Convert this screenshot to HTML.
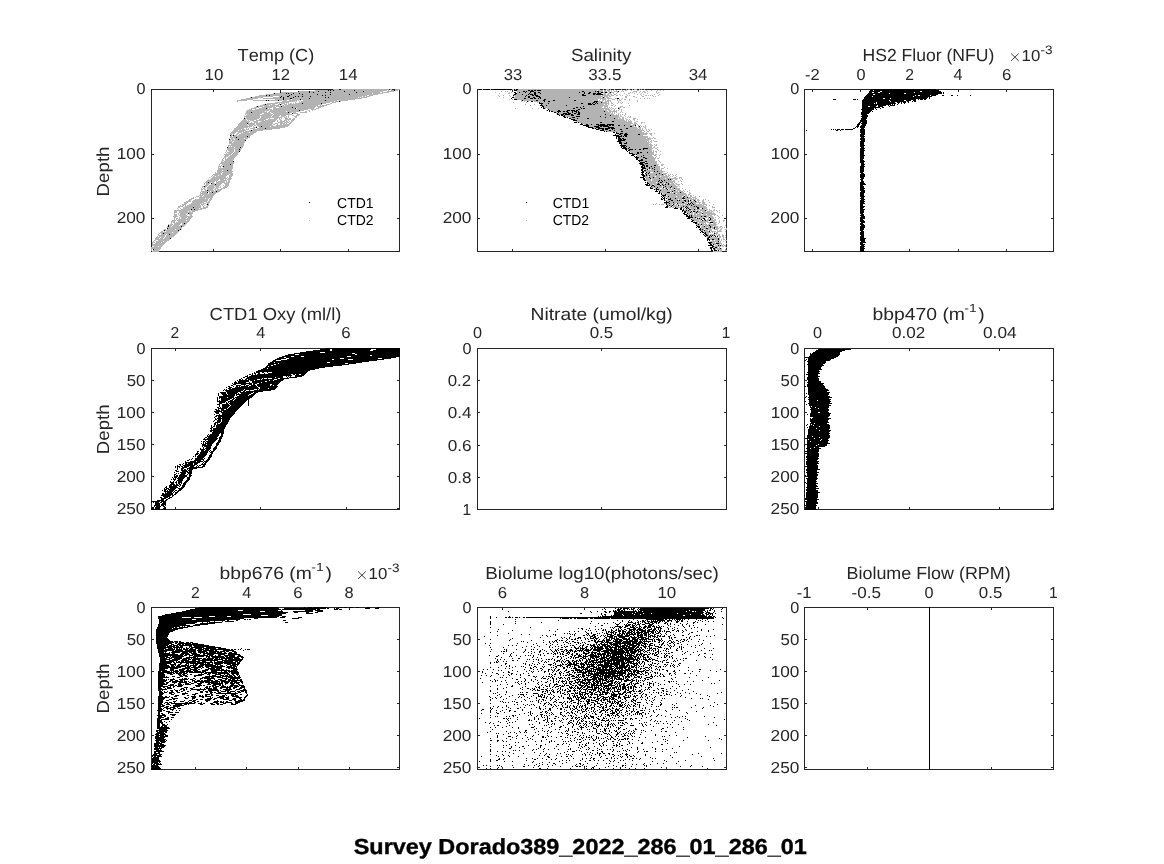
<!DOCTYPE html>
<html><head><meta charset="utf-8"><title>Survey Dorado389_2022_286_01_286_01</title>
<style>
html,body{margin:0;padding:0;background:#fff;}
body{width:1164px;height:864px;overflow:hidden;font-family:"Liberation Sans",sans-serif;}
svg{display:block;}
svg text{font-family:"Liberation Sans",sans-serif;font-kerning:none;white-space:pre;text-rendering:geometricPrecision;}
</style></head><body>
<svg width="1164" height="864" viewBox="0 0 1164 864">
<rect width="1164" height="864" fill="#fff"/>
<g fill="none" stroke="#262626" stroke-width="1" shape-rendering="crispEdges">
<path d="M151.5 89.5H399.5V251.5H151.5ZM477.5 89.5H726.5V251.5H477.5ZM804.5 89.5H1053.5V251.5H804.5ZM151.5 348.5H399.5V509.5H151.5ZM477.5 348.5H726.5V509.5H477.5ZM804.5 348.5H1053.5V509.5H804.5ZM151.5 607.5H399.5V769.5H151.5ZM477.5 607.5H726.5V769.5H477.5ZM804.5 607.5H1053.5V769.5H804.5Z"/>
<path d="M213.5 90v2M213.5 251v-2M280.5 90v2M280.5 251v-2M348.5 90v2M348.5 251v-2M152 154.5h2M399 154.5h-2M152 218.5h2M399 218.5h-2M512.5 90v2M512.5 251v-2M605.5 90v2M605.5 251v-2M698.5 90v2M698.5 251v-2M478 154.5h2M726 154.5h-2M478 218.5h2M726 218.5h-2M812.5 90v2M812.5 251v-2M860.5 90v2M860.5 251v-2M909.5 90v2M909.5 251v-2M958.5 90v2M958.5 251v-2M1006.5 90v2M1006.5 251v-2M805 154.5h2M1053 154.5h-2M805 218.5h2M1053 218.5h-2M175.5 349v2M175.5 509v-2M260.5 349v2M260.5 509v-2M346.5 349v2M346.5 509v-2M152 380.5h2M399 380.5h-2M152 412.5h2M399 412.5h-2M152 444.5h2M399 444.5h-2M152 476.5h2M399 476.5h-2M152 508.5h2M399 508.5h-2M601.5 349v2M601.5 509v-2M478 380.5h2M726 380.5h-2M478 412.5h2M726 412.5h-2M478 445.5h2M726 445.5h-2M478 477.5h2M726 477.5h-2M818.5 349v2M818.5 509v-2M909.5 349v2M909.5 509v-2M999.5 349v2M999.5 509v-2M805 380.5h2M1053 380.5h-2M805 412.5h2M1053 412.5h-2M805 444.5h2M1053 444.5h-2M805 476.5h2M1053 476.5h-2M805 508.5h2M1053 508.5h-2M195.5 608v2M195.5 769v-2M246.5 608v2M246.5 769v-2M298.5 608v2M298.5 769v-2M349.5 608v2M349.5 769v-2M152 639.5h2M399 639.5h-2M152 671.5h2M399 671.5h-2M152 703.5h2M399 703.5h-2M152 735.5h2M399 735.5h-2M152 767.5h2M399 767.5h-2M502.5 608v2M502.5 769v-2M584.5 608v2M584.5 769v-2M666.5 608v2M666.5 769v-2M478 639.5h2M726 639.5h-2M478 671.5h2M726 671.5h-2M478 703.5h2M726 703.5h-2M478 735.5h2M726 735.5h-2M478 767.5h2M726 767.5h-2M867.5 608v2M867.5 769v-2M929.5 608v2M929.5 769v-2M991.5 608v2M991.5 769v-2M805 639.5h2M1053 639.5h-2M805 671.5h2M1053 671.5h-2M805 703.5h2M1053 703.5h-2M805 735.5h2M1053 735.5h-2M805 767.5h2M1053 767.5h-2"/>
</g>
<g fill="none" stroke-width="1" shape-rendering="crispEdges" transform="translate(0 0.5)">
<path stroke="#000" d="M479 89h3M483 89h2M486 89h4M491 89h1M493 89h13M507 89h5M514 89h1M516 89h2M871 89h65M328 90h1M330 90h1M333 90h1M354 90h1M394 90h1M514 90h3M528 90h2M531 90h2M534 90h2M537 90h4M870 90h3M874 90h65M298 91h1M309 91h1M318 91h1M344 91h1M363 91h1M523 91h2M526 91h1M530 91h4M582 91h2M595 91h1M597 91h2M618 91h1M869 91h11M882 91h38M922 91h19M280 92h1M309 92h1M313 92h1M325 92h1M330 92h1M356 92h1M514 92h2M519 92h1M525 92h1M530 92h1M534 92h2M538 92h2M579 92h1M584 92h1M589 92h2M598 92h1M601 92h2M605 92h2M610 92h1M869 92h3M874 92h4M880 92h34M915 92h27M943 92h1M274 93h1M286 93h1M288 93h1M293 93h1M299 93h1M515 93h2M529 93h1M534 93h2M540 93h1M584 93h1M588 93h2M593 93h3M597 93h4M868 93h21M890 93h14M906 93h36M943 93h1M291 94h1M302 94h1M317 94h1M330 94h1M349 94h1M514 94h2M522 94h1M528 94h1M530 94h3M534 94h2M582 94h2M593 94h2M596 94h7M867 94h6M875 94h63M266 95h1M269 95h1M289 95h1M322 95h1M325 95h1M513 95h1M526 95h1M532 95h2M535 95h3M582 95h4M866 95h49M916 95h2M920 95h10M931 95h5M942 95h2M951 95h2M957 95h1M970 95h1M281 96h1M287 96h2M295 96h1M298 96h1M302 96h1M310 96h1M525 96h1M528 96h2M536 96h4M865 96h7M873 96h40M914 96h18M251 97h1M280 97h1M283 97h1M293 97h1M325 97h1M328 97h1M512 97h2M528 97h2M533 97h2M539 97h2M569 97h1M603 97h1M864 97h64M929 97h1M283 98h1M290 98h2M309 98h1M511 98h1M524 98h2M530 98h3M534 98h2M538 98h1M540 98h1M617 98h2M864 98h19M885 98h5M891 98h36M929 98h1M283 99h1M300 99h1M514 99h3M544 99h2M833 99h3M853 99h3M857 99h1M863 99h53M918 99h1M920 99h3M924 99h2M266 100h1M268 100h1M278 100h1M325 100h1M522 100h1M536 100h2M543 100h2M553 100h2M574 100h2M862 100h27M890 100h14M906 100h5M913 100h3M339 101h1M527 101h1M531 101h2M544 101h1M548 101h2M594 101h4M862 101h28M891 101h15M907 101h2M912 101h1M914 101h2M539 102h1M593 102h2M596 102h1M601 102h1M862 102h14M877 102h18M897 102h3M901 102h1M903 102h3M908 102h1M302 103h1M321 103h1M539 103h4M548 103h1M581 103h2M588 103h3M592 103h1M595 103h1M597 103h1M862 103h12M875 103h1M877 103h19M898 103h1M901 103h1M904 103h1M265 104h1M280 104h1M541 104h1M588 104h4M593 104h2M862 104h29M892 104h1M894 104h1M897 104h1M540 105h3M546 105h1M566 105h1M862 105h15M878 105h8M888 105h1M890 105h5M257 106h1M281 106h1M542 106h2M583 106h1M862 106h6M870 106h6M878 106h5M889 106h1M292 107h1M541 107h1M543 107h1M576 107h2M580 107h1M862 107h18M882 107h2M266 108h1M295 108h1M543 108h2M573 108h2M581 108h1M583 108h2M618 108h1M862 108h12M875 108h1M880 108h1M548 109h1M578 109h2M861 109h13M876 109h1M299 110h1M547 110h1M549 110h1M558 110h2M567 110h3M571 110h4M576 110h2M862 110h10M549 111h1M551 111h2M557 111h4M563 111h2M566 111h2M572 111h1M574 111h3M578 111h1M604 111h1M862 111h9M872 111h1M251 112h1M288 112h1M554 112h2M558 112h1M567 112h2M572 112h1M576 112h1M578 112h2M861 112h9M292 113h1M557 113h1M563 113h4M568 113h3M574 113h2M578 113h2M861 113h8M557 114h2M561 114h3M565 114h5M571 114h2M577 114h3M605 114h1M861 114h6M559 115h1M561 115h2M564 115h1M571 115h3M610 115h1M862 115h6M563 116h2M576 116h4M600 116h1M861 116h7M564 117h2M567 117h1M572 117h3M605 117h1M862 117h5M244 118h1M569 118h2M577 118h1M587 118h2M614 118h1M861 118h6M571 119h4M861 119h5M573 120h4M860 120h7M612 121h2M860 121h7M574 122h3M578 122h1M600 122h2M859 122h2M862 122h5M247 123h1M581 123h1M858 123h2M861 123h6M580 124h3M586 124h2M591 124h1M596 124h3M600 124h5M607 124h7M857 124h3M862 124h4M583 125h6M598 125h10M609 125h2M612 125h2M618 125h2M624 125h1M635 125h1M857 125h2M861 125h5M261 126h1M586 126h3M594 126h5M600 126h2M603 126h6M630 126h2M639 126h1M856 126h3M860 126h5M256 127h1M588 127h5M596 127h4M608 127h6M855 127h1M857 127h1M860 127h5M265 128h1M592 128h2M595 128h1M598 128h6M605 128h5M611 128h4M626 128h2M853 128h2M861 128h3M596 129h3M602 129h2M605 129h3M612 129h1M620 129h2M831 129h1M833 129h1M835 129h1M837 129h3M841 129h3M845 129h8M860 129h5M251 130h1M600 130h4M609 130h2M614 130h1M806 130h1M836 130h2M840 130h1M860 130h5M604 131h1M606 131h1M621 131h2M860 131h5M613 132h2M616 132h1M860 132h5M616 133h3M620 133h3M625 133h2M861 133h4M615 134h1M619 134h2M624 134h4M638 134h2M860 134h5M230 135h1M233 135h1M613 135h6M621 135h1M624 135h3M860 135h4M247 136h1M616 136h6M623 136h1M625 136h2M860 136h5M236 137h1M616 137h1M618 137h2M861 137h3M616 138h1M618 138h3M622 138h2M860 138h5M229 139h1M238 139h1M618 139h4M623 139h3M860 139h5M245 140h1M618 140h7M861 140h4M617 141h4M860 141h5M619 142h3M626 142h1M860 142h4M619 143h3M624 143h3M860 143h4M621 144h1M860 144h4M620 145h6M860 145h5M621 146h4M626 146h1M860 146h4M227 147h1M240 147h1M621 147h1M623 147h3M629 147h1M861 147h3M622 148h5M628 148h1M643 148h5M860 148h5M239 149h1M625 149h2M629 149h4M635 149h1M639 149h2M643 149h1M860 149h4M626 150h1M628 150h2M860 150h5M239 151h1M627 151h1M860 151h4M629 152h1M637 152h2M640 152h2M647 152h1M860 152h4M629 153h4M637 153h2M860 153h4M632 154h3M636 154h1M860 154h4M631 155h3M643 155h1M860 155h5M634 156h1M636 156h1M641 156h1M860 156h4M635 157h4M643 157h2M860 157h4M636 158h2M645 158h2M860 158h4M636 159h2M641 159h2M860 159h3M638 160h5M860 160h4M233 161h1M639 161h1M645 161h2M860 161h5M640 162h5M860 162h4M639 163h4M645 163h3M861 163h3M230 164h1M640 164h4M861 164h4M642 165h3M646 165h2M654 165h2M861 165h3M223 166h1M641 166h2M644 166h1M646 166h2M651 166h1M860 166h5M641 167h4M649 167h1M654 167h1M860 167h4M642 168h4M649 168h1M652 168h1M860 168h4M641 169h2M647 169h1M654 169h1M860 169h4M227 170h1M641 170h2M644 170h2M860 170h4M642 171h2M654 171h1M657 171h1M860 171h4M641 172h3M646 172h1M649 172h1M860 172h3M642 173h1M645 173h1M648 173h1M659 173h1M861 173h3M641 174h3M646 174h1M656 174h1M662 174h1M860 174h5M642 175h3M646 175h1M649 175h1M860 175h5M643 176h2M860 176h5M640 177h4M649 177h1M653 177h1M860 177h4M643 178h2M650 178h1M659 178h1M861 178h3M643 179h2M668 179h1M670 179h1M860 179h3M644 180h2M659 180h1M661 180h1M664 180h1M861 180h2M658 181h1M662 181h1M861 181h3M208 182h1M645 182h1M647 182h1M660 182h2M666 182h1M860 182h4M211 183h1M647 183h2M658 183h1M668 183h1M860 183h5M215 184h1M645 184h3M649 184h1M657 184h3M662 184h1M665 184h1M668 184h1M860 184h6M646 185h4M652 185h2M660 185h1M663 185h1M860 185h3M204 186h1M651 186h1M654 186h1M665 186h1M671 186h1M860 186h4M650 187h1M657 187h1M663 187h1M670 187h1M860 187h4M650 188h3M656 188h1M666 188h1M674 188h1M860 188h5M654 189h1M656 189h3M667 189h1M860 189h4M207 190h1M656 190h1M660 190h1M674 190h1M860 190h5M216 191h1M655 191h3M659 191h1M672 191h1M861 191h4M207 192h1M212 192h1M659 192h1M667 192h3M680 192h1M860 192h5M658 193h2M661 193h1M674 193h1M860 193h4M661 194h1M665 194h1M860 194h4M662 195h4M860 195h4M661 196h1M663 196h1M668 196h1M684 196h1M860 196h5M662 197h1M664 197h1M683 197h1M687 197h1M861 197h3M661 198h1M663 198h2M666 198h1M670 198h1M675 198h1M682 198h3M860 198h4M661 199h2M664 199h1M668 199h3M861 199h4M664 200h1M671 200h2M677 200h1M679 200h1M684 200h2M688 200h1M690 200h1M694 200h1M860 200h4M666 201h1M669 201h1M685 201h1M688 201h1M695 201h1M860 201h5M664 202h5M673 202h1M682 202h2M691 202h1M860 202h4M666 203h1M669 203h1M677 203h1M688 203h1M690 203h1M692 203h1M860 203h5M207 204h1M666 204h1M673 204h1M687 204h1M689 204h1M693 204h1M860 204h3M667 205h1M669 205h1M672 205h1M678 205h1M691 205h1M860 205h3M666 206h2M671 206h1M683 206h1M686 206h1M694 206h1M696 206h1M860 206h5M193 207h1M665 207h3M675 207h1M681 207h1M685 207h1M687 207h1M697 207h2M860 207h4M674 208h4M680 208h2M686 208h1M688 208h1M697 208h2M702 208h1M860 208h3M191 209h1M194 209h1M680 209h2M683 209h1M689 209h2M694 209h1M860 209h5M682 210h2M686 210h1M688 210h1M705 210h1M860 210h4M682 211h1M684 211h2M691 211h1M693 211h2M697 211h1M860 211h4M684 212h2M690 212h1M696 212h1M860 212h4M188 213h1M683 213h2M687 213h1M702 213h1M860 213h3M684 214h3M861 214h3M686 215h2M689 215h1M691 215h1M860 215h4M686 216h4M691 216h1M701 216h1M704 216h2M861 216h4M688 217h5M695 217h1M709 217h1M860 217h5M687 218h3M697 218h1M699 218h1M703 218h2M710 218h1M860 218h5M691 219h1M701 219h1M704 219h1M710 219h1M860 219h3M692 220h2M702 220h1M705 220h1M709 220h1M860 220h4M691 221h2M860 221h5M693 222h4M710 222h3M861 222h4M184 223h1M695 223h2M860 223h3M698 224h1M701 224h1M860 224h4M168 225h1M696 225h1M709 225h1M861 225h4M168 226h1M181 226h1M697 226h3M704 226h1M710 226h1M860 226h5M696 227h1M698 227h2M710 227h1M714 227h1M860 227h5M167 228h1M700 228h1M706 228h2M714 228h1M860 228h4M180 229h1M699 229h2M702 229h1M860 229h4M164 230h1M178 230h1M700 230h1M704 230h1M860 230h3M701 231h2M709 231h1M861 231h3M700 232h1M702 232h2M705 232h1M860 232h4M163 233h1M704 233h2M714 233h1M860 233h4M169 234h1M703 234h1M705 234h2M860 234h4M704 235h1M706 235h2M710 235h1M712 235h1M714 235h1M861 235h3M705 236h1M709 236h1M711 236h1M715 236h1M717 236h1M860 236h4M708 237h2M860 237h4M170 238h1M707 238h2M718 238h1M860 238h6M707 239h3M712 239h2M718 239h1M860 239h5M707 240h1M709 240h1M860 240h5M718 241h1M861 241h4M708 242h4M860 242h6M709 243h2M716 243h3M860 243h3M710 244h2M713 244h1M860 244h5M708 245h5M718 245h1M720 245h1M861 245h3M712 246h2M860 246h5M710 247h3M715 247h2M860 247h4M710 248h2M713 248h2M720 248h1M860 248h5M153 249h1M711 249h1M714 249h1M860 249h4M711 250h2M714 250h3M718 250h1M861 250h3M860 251h5M326 348h74M320 349h10M332 349h39M376 349h24M818 349h33M313 350h17M332 350h38M373 350h27M816 350h29M306 351h94M815 351h27M300 352h20M325 352h75M813 352h27M294 353h58M355 353h45M810 353h1M812 353h28M288 354h7M299 354h56M357 354h43M810 354h30M285 355h85M372 355h28M810 355h29M282 356h9M294 356h7M304 356h43M351 356h49M809 356h29M279 357h5M286 357h110M805 357h31M277 358h9M289 358h51M344 358h34M382 358h9M808 358h26M275 359h6M287 359h45M334 359h14M353 359h31M806 359h1M808 359h23M273 360h3M281 360h96M805 360h1M808 360h22M272 361h97M807 361h19M270 362h4M275 362h52M330 362h32M808 362h18M268 363h10M279 363h66M348 363h8M808 363h17M268 364h6M276 364h73M807 364h16M267 365h4M273 365h69M808 365h16M266 366h2M269 366h64M804 366h1M808 366h14M265 367h60M808 367h13M263 368h4M268 368h51M808 368h13M261 369h54M808 369h14M258 370h52M808 370h11M256 371h52M808 371h12M254 372h1M256 372h4M262 372h2M267 372h1M272 372h35M807 372h12M252 373h1M254 373h2M258 373h2M264 373h1M268 373h38M808 373h12M249 374h2M252 374h1M255 374h1M257 374h34M293 374h2M296 374h3M301 374h4M806 374h12M247 375h1M251 375h41M295 375h9M808 375h10M245 376h3M249 376h34M286 376h1M288 376h1M290 376h1M295 376h7M808 376h12M243 377h2M247 377h28M276 377h7M287 377h1M289 377h8M807 377h11M241 378h1M246 378h16M263 378h1M267 378h1M272 378h6M280 378h9M807 378h12M239 379h2M242 379h1M245 379h2M248 379h9M260 379h1M262 379h12M277 379h7M804 379h1M807 379h12M237 380h1M239 380h10M250 380h4M255 380h14M270 380h3M274 380h9M808 380h11M235 381h1M238 381h11M252 381h13M267 381h14M808 381h13M234 382h3M238 382h8M249 382h1M252 382h9M262 382h18M807 382h14M232 383h1M234 383h18M253 383h4M259 383h20M808 383h16M233 384h3M241 384h5M249 384h3M253 384h2M257 384h13M272 384h6M807 384h16M231 385h2M236 385h5M244 385h1M246 385h3M251 385h5M257 385h13M271 385h2M274 385h3M807 385h17M228 386h2M233 386h1M236 386h2M239 386h1M241 386h7M249 386h8M258 386h20M805 386h1M807 386h18M226 387h1M229 387h3M235 387h23M260 387h17M808 387h17M228 388h3M232 388h27M260 388h8M269 388h7M808 388h18M224 389h1M226 389h1M229 389h15M245 389h9M257 389h1M259 389h16M808 389h20M223 390h1M225 390h18M244 390h2M249 390h1M254 390h17M804 390h1M808 390h21M226 391h15M243 391h2M246 391h17M808 391h19M220 392h6M227 392h11M240 392h13M254 392h4M808 392h22M218 393h1M221 393h5M227 393h10M238 393h1M241 393h10M253 393h3M806 393h1M808 393h21M218 394h1M222 394h5M228 394h7M236 394h13M251 394h4M808 394h21M218 395h1M223 395h12M236 395h1M239 395h9M249 395h5M804 395h1M809 395h19M219 396h15M237 396h16M806 396h1M809 396h21M217 397h1M219 397h8M228 397h6M235 397h17M805 397h1M808 397h24M217 398h1M219 398h1M221 398h11M233 398h2M236 398h14M804 398h1M809 398h20M217 399h1M221 399h9M232 399h2M235 399h14M804 399h1M808 399h23M217 400h1M219 400h1M221 400h7M230 400h3M234 400h13M248 400h1M809 400h8M818 400h12M217 401h9M228 401h18M248 401h1M805 401h1M809 401h22M219 402h6M226 402h1M228 402h1M230 402h15M248 402h1M809 402h21M219 403h3M226 403h2M229 403h15M248 403h1M808 403h24M217 404h3M222 404h7M230 404h13M248 404h1M806 404h1M809 404h20M219 405h1M222 405h8M231 405h11M248 405h1M809 405h22M219 406h1M222 406h7M230 406h11M810 406h1M812 406h17M217 407h2M220 407h1M222 407h6M229 407h11M810 407h5M816 407h13M218 408h9M228 408h11M811 408h7M819 408h9M215 409h2M218 409h1M221 409h3M226 409h12M810 409h19M216 410h4M221 410h16M811 410h18M214 411h8M223 411h13M811 411h17M215 412h4M221 412h14M811 412h7M820 412h9M216 413h3M222 413h13M810 413h21M214 414h1M219 414h1M222 414h12M807 414h1M810 414h20M216 415h17M810 415h20M215 416h2M218 416h14M810 416h19M214 417h1M218 417h3M222 417h9M813 417h15M215 418h1M217 418h13M810 418h1M812 418h19M215 419h2M218 419h3M222 419h8M810 419h19M214 420h1M217 420h4M222 420h7M810 420h18M213 421h1M217 421h4M222 421h7M810 421h18M215 422h5M221 422h7M811 422h18M214 423h2M217 423h1M220 423h8M810 423h4M815 423h12M214 424h2M217 424h10M807 424h1M810 424h1M812 424h17M211 425h1M214 425h1M216 425h10M806 425h1M810 425h3M814 425h16M211 426h1M213 426h2M216 426h10M809 426h10M820 426h10M211 427h2M216 427h9M807 427h1M809 427h21M210 428h2M213 428h12M809 428h7M817 428h13M211 429h1M213 429h11M808 429h21M210 430h14M808 430h11M820 430h11M210 431h2M213 431h11M808 431h22M212 432h12M808 432h21M212 433h8M221 433h3M808 433h22M208 434h1M210 434h9M221 434h2M808 434h21M207 435h1M209 435h10M221 435h2M807 435h23M207 436h11M220 436h3M807 436h5M813 436h17M205 437h2M208 437h9M219 437h3M807 437h12M820 437h10M204 438h1M207 438h11M219 438h3M805 438h9M815 438h14M203 439h14M219 439h2M807 439h1M809 439h12M822 439h6M205 440h1M208 440h8M218 440h3M807 440h13M821 440h8M201 441h1M203 441h2M206 441h9M218 441h3M807 441h3M811 441h17M203 442h1M205 442h1M207 442h7M217 442h3M807 442h21M201 443h1M203 443h1M205 443h8M216 443h3M807 443h23M202 444h4M207 444h5M216 444h3M807 444h11M819 444h8M202 445h10M216 445h2M804 445h1M807 445h9M817 445h10M202 446h1M204 446h7M215 446h2M807 446h18M203 447h1M206 447h5M214 447h3M807 447h7M815 447h4M200 448h1M203 448h1M205 448h6M213 448h4M806 448h4M811 448h10M200 449h5M206 449h4M213 449h3M807 449h12M201 450h3M205 450h4M210 450h1M213 450h2M807 450h12M197 451h2M201 451h7M209 451h1M211 451h3M805 451h14M197 452h1M200 452h8M210 452h3M807 452h11M196 453h3M200 453h7M211 453h2M805 453h14M195 454h3M199 454h8M210 454h2M807 454h12M195 455h1M198 455h8M209 455h3M807 455h12M193 456h1M195 456h1M197 456h8M209 456h3M806 456h13M197 457h7M208 457h3M804 457h1M806 457h12M192 458h1M195 458h8M204 458h1M208 458h2M807 458h12M189 459h1M191 459h1M195 459h9M207 459h3M806 459h12M187 460h2M194 460h7M203 460h1M206 460h3M807 460h10M185 461h1M190 461h6M197 461h6M204 461h4M806 461h13M185 462h15M203 462h1M205 462h2M806 462h12M183 463h1M185 463h2M188 463h5M194 463h4M202 463h1M204 463h2M806 463h13M179 464h2M182 464h1M185 464h8M194 464h3M201 464h5M806 464h11M177 465h1M180 465h1M183 465h12M197 465h1M199 465h2M203 465h2M807 465h11M175 466h1M177 466h3M181 466h2M184 466h5M190 466h4M196 466h1M198 466h1M202 466h3M805 466h13M175 467h1M177 467h1M179 467h1M182 467h5M189 467h14M807 467h11M177 468h1M181 468h3M187 468h10M804 468h1M807 468h11M177 469h1M181 469h2M184 469h2M187 469h1M189 469h4M806 469h14M175 470h2M181 470h6M188 470h4M806 470h11M176 471h3M182 471h6M189 471h3M804 471h1M807 471h10M174 472h1M180 472h6M187 472h5M806 472h13M176 473h1M178 473h1M181 473h5M188 473h4M807 473h10M174 474h2M180 474h5M187 474h1M189 474h2M807 474h11M174 475h1M176 475h2M179 475h8M189 475h3M805 475h1M807 475h11M174 476h4M179 476h8M189 476h2M807 476h10M172 477h1M174 477h3M178 477h7M187 477h3M808 477h9M173 478h1M175 478h1M177 478h7M187 478h3M806 478h12M171 479h1M173 479h3M178 479h5M187 479h3M807 479h10M174 480h1M177 480h6M186 480h3M807 480h9M170 481h1M173 481h1M176 481h1M178 481h4M185 481h3M807 481h10M170 482h4M175 482h2M178 482h4M184 482h3M804 482h2M807 482h9M171 483h3M176 483h1M178 483h2M181 483h1M183 483h3M806 483h12M170 484h5M176 484h2M179 484h2M183 484h3M807 484h9M169 485h3M173 485h6M180 485h1M182 485h3M807 485h10M166 486h1M169 486h8M179 486h1M182 486h3M807 486h11M165 487h2M169 487h9M181 487h3M806 487h10M164 488h1M166 488h3M170 488h6M178 488h5M807 488h12M164 489h3M168 489h7M179 489h3M806 489h10M162 490h1M164 490h2M167 490h1M169 490h5M175 490h2M178 490h3M806 490h12M164 491h9M174 491h1M177 491h2M804 491h1M807 491h11M165 492h1M167 492h5M173 492h1M175 492h3M806 492h14M162 493h2M165 493h8M175 493h2M806 493h12M162 494h11M174 494h2M806 494h12M161 495h10M172 495h2M804 495h1M806 495h12M163 496h7M172 496h1M806 496h12M160 497h2M164 497h4M169 497h3M806 497h12M161 498h5M168 498h2M805 498h12M161 499h3M166 499h2M805 499h14M157 500h7M165 500h2M807 500h10M151 501h9M161 501h5M805 501h12M151 502h1M153 502h1M155 502h4M160 502h2M163 502h3M806 502h12M155 503h5M162 503h4M806 503h12M155 504h5M161 504h5M804 504h1M806 504h10M154 505h6M161 505h3M165 505h1M805 505h12M154 506h1M156 506h5M163 506h2M806 506h10M152 507h2M155 507h5M164 507h2M805 507h11M151 508h3M155 508h5M163 508h3M806 508h10M151 509h9M162 509h1M164 509h2M805 509h12M199 607h79M304 607h1M308 607h4M313 607h14M339 607h4M344 607h3M349 607h4M356 607h3M367 607h3M377 607h3M929 607h1M195 608h84M284 608h42M327 608h2M334 608h1M336 608h3M365 608h5M375 608h4M604 608h1M615 608h1M618 608h1M620 608h2M623 608h6M631 608h1M633 608h2M638 608h1M640 608h69M710 608h2M713 608h1M722 608h1M929 608h1M190 609h91M282 609h34M317 609h3M334 609h4M339 609h3M602 609h1M605 609h1M617 609h4M623 609h2M627 609h1M629 609h1M631 609h3M637 609h1M639 609h66M710 609h1M712 609h1M721 609h1M929 609h1M186 610h52M243 610h35M281 610h1M305 610h8M315 610h8M613 610h1M615 610h1M617 610h3M621 610h2M624 610h1M633 610h1M635 610h1M638 610h1M640 610h49M690 610h15M707 610h1M709 610h2M714 610h1M929 610h1M182 611h78M265 611h18M293 611h20M317 611h6M508 611h1M590 611h1M597 611h1M604 611h2M609 611h2M613 611h4M618 611h19M638 611h4M643 611h43M687 611h5M694 611h1M696 611h7M705 611h1M707 611h1M714 611h1M721 611h1M929 611h1M176 612h112M294 612h4M306 612h3M315 612h3M591 612h1M605 612h2M609 612h1M614 612h21M636 612h68M706 612h4M713 612h1M929 612h1M171 613h115M306 613h7M580 613h2M601 613h1M614 613h18M633 613h10M644 613h7M652 613h25M678 613h25M705 613h2M708 613h5M715 613h1M929 613h1M165 614h78M251 614h31M601 614h1M604 614h2M614 614h8M623 614h11M635 614h5M641 614h49M691 614h10M702 614h2M706 614h3M710 614h1M712 614h1M929 614h1M162 615h99M268 615h14M602 615h1M605 615h1M611 615h1M613 615h10M624 615h59M685 615h20M706 615h1M709 615h1M712 615h1M929 615h1M158 616h51M215 616h12M231 616h48M282 616h4M490 616h1M509 616h1M598 616h1M600 616h1M602 616h105M708 616h4M713 616h2M929 616h1M158 617h24M191 617h3M202 617h75M280 617h5M298 617h4M490 617h1M496 617h1M505 617h2M508 617h3M512 617h1M515 617h3M519 617h1M523 617h2M526 617h188M715 617h1M722 617h1M929 617h1M158 618h86M254 618h4M292 618h7M490 618h1M560 618h1M562 618h7M570 618h2M574 618h2M577 618h11M590 618h3M594 618h16M611 618h103M723 618h1M929 618h1M159 619h33M196 619h44M244 619h2M247 619h1M249 619h2M515 619h1M633 619h1M646 619h18M665 619h2M669 619h1M672 619h1M674 619h1M676 619h5M682 619h1M684 619h1M688 619h1M696 619h1M702 619h1M707 619h1M929 619h1M159 620h66M227 620h2M236 620h2M283 620h3M558 620h1M617 620h1M622 620h1M629 620h1M637 620h1M642 620h2M645 620h1M647 620h1M651 620h1M653 620h1M655 620h1M657 620h8M667 620h5M675 620h1M677 620h1M679 620h1M681 620h2M698 620h1M700 620h1M705 620h1M929 620h1M159 621h51M214 621h1M222 621h1M225 621h9M490 621h1M515 621h1M591 621h1M622 621h1M628 621h1M631 621h1M638 621h1M640 621h1M642 621h3M647 621h3M651 621h7M659 621h2M662 621h1M664 621h1M667 621h2M671 621h1M676 621h3M681 621h2M687 621h1M695 621h1M702 621h1M708 621h1M713 621h1M929 621h1M159 622h38M202 622h1M207 622h1M209 622h13M285 622h3M490 622h1M541 622h1M613 622h1M620 622h1M628 622h5M635 622h1M637 622h2M642 622h1M644 622h2M648 622h1M650 622h3M654 622h3M658 622h2M665 622h2M676 622h2M693 622h2M697 622h1M929 622h1M159 623h36M200 623h15M490 623h1M515 623h1M590 623h1M598 623h1M604 623h1M607 623h1M615 623h1M619 623h1M627 623h1M633 623h3M638 623h1M640 623h1M645 623h5M652 623h2M656 623h1M658 623h1M664 623h2M667 623h1M670 623h1M680 623h1M687 623h1M693 623h1M929 623h1M158 624h28M195 624h13M490 624h1M503 624h1M616 624h3M624 624h1M626 624h1M628 624h3M632 624h1M635 624h1M637 624h3M642 624h3M649 624h4M667 624h1M670 624h1M674 624h1M682 624h1M686 624h1M705 624h1M722 624h1M929 624h1M158 625h32M193 625h7M601 625h2M617 625h1M625 625h5M632 625h3M636 625h1M639 625h1M645 625h1M648 625h4M653 625h1M658 625h1M668 625h1M678 625h1M682 625h1M689 625h1M693 625h1M929 625h1M158 626h22M182 626h1M184 626h1M187 626h6M595 626h1M615 626h6M622 626h1M625 626h3M630 626h1M632 626h2M635 626h1M639 626h2M644 626h3M648 626h3M652 626h3M656 626h1M659 626h1M661 626h1M663 626h1M670 626h1M683 626h1M689 626h1M929 626h1M157 627h17M175 627h2M179 627h9M490 627h1M530 627h1M610 627h1M612 627h1M614 627h1M619 627h3M624 627h2M630 627h5M636 627h2M639 627h1M641 627h1M643 627h3M647 627h4M654 627h1M656 627h5M667 627h1M674 627h1M684 627h1M694 627h1M697 627h1M929 627h1M157 628h15M173 628h10M578 628h1M581 628h2M589 628h1M601 628h1M613 628h1M618 628h1M620 628h1M627 628h3M633 628h3M638 628h3M643 628h2M647 628h1M651 628h1M654 628h2M658 628h1M660 628h2M668 628h1M672 628h1M677 628h1M691 628h1M929 628h1M156 629h22M498 629h1M557 629h1M582 629h1M586 629h1M595 629h1M598 629h1M603 629h1M605 629h1M611 629h1M616 629h1M618 629h1M621 629h1M624 629h2M629 629h7M637 629h6M645 629h1M648 629h4M653 629h3M658 629h1M660 629h1M668 629h1M674 629h1M685 629h1M701 629h1M713 629h1M929 629h1M156 630h19M512 630h1M549 630h1M588 630h1M590 630h1M602 630h2M605 630h1M611 630h2M615 630h2M618 630h3M622 630h2M626 630h1M629 630h3M633 630h2M636 630h2M639 630h7M647 630h3M652 630h3M656 630h1M659 630h2M664 630h1M672 630h2M677 630h2M682 630h1M686 630h1M701 630h1M708 630h1M929 630h1M156 631h17M497 631h1M555 631h1M569 631h1M574 631h1M578 631h1M585 631h1M596 631h1M606 631h1M608 631h2M611 631h1M613 631h2M618 631h3M622 631h4M628 631h2M631 631h2M634 631h1M637 631h2M641 631h5M647 631h7M655 631h1M657 631h1M659 631h2M662 631h1M664 631h1M666 631h4M676 631h1M678 631h1M683 631h1M697 631h1M708 631h1M929 631h1M156 632h14M490 632h1M586 632h1M591 632h1M602 632h1M606 632h1M608 632h1M610 632h4M615 632h2M619 632h1M622 632h2M625 632h1M627 632h5M633 632h2M636 632h7M644 632h5M651 632h3M655 632h1M658 632h2M666 632h1M670 632h1M682 632h1M691 632h2M929 632h1M156 633h13M508 633h1M564 633h1M567 633h1M569 633h1M575 633h1M587 633h2M591 633h1M597 633h1M599 633h1M604 633h1M606 633h2M611 633h1M613 633h1M615 633h1M619 633h2M622 633h3M626 633h4M631 633h2M634 633h2M637 633h3M641 633h1M643 633h4M648 633h1M650 633h1M652 633h2M656 633h3M660 633h1M665 633h1M689 633h1M929 633h1M156 634h13M521 634h1M529 634h1M553 634h1M555 634h1M570 634h1M572 634h1M574 634h1M586 634h1M588 634h1M593 634h3M607 634h5M614 634h2M617 634h3M621 634h2M624 634h1M626 634h2M629 634h7M637 634h2M640 634h3M644 634h3M648 634h2M654 634h2M661 634h1M666 634h1M673 634h1M688 634h1M929 634h1M156 635h12M497 635h1M542 635h1M546 635h1M555 635h1M574 635h1M583 635h2M587 635h1M589 635h1M592 635h3M597 635h1M601 635h1M603 635h1M605 635h1M607 635h1M610 635h4M617 635h6M625 635h5M633 635h1M637 635h6M644 635h3M648 635h1M650 635h3M654 635h1M657 635h2M660 635h1M664 635h1M670 635h1M674 635h1M682 635h2M696 635h2M699 635h1M714 635h1M929 635h1M156 636h12M484 636h1M547 636h1M550 636h1M570 636h1M590 636h3M594 636h2M600 636h1M604 636h1M607 636h6M614 636h3M618 636h11M630 636h2M634 636h1M637 636h2M640 636h3M646 636h1M648 636h3M652 636h4M657 636h1M659 636h2M662 636h3M668 636h2M690 636h1M694 636h1M706 636h1M710 636h1M929 636h1M156 637h11M540 637h1M561 637h1M564 637h1M569 637h1M578 637h3M584 637h1M590 637h1M593 637h3M598 637h1M605 637h2M609 637h4M614 637h1M616 637h1M619 637h6M629 637h1M631 637h6M638 637h8M648 637h1M650 637h1M654 637h1M656 637h2M669 637h1M671 637h1M674 637h2M686 637h1M689 637h1M929 637h1M156 638h12M512 638h1M562 638h1M566 638h1M569 638h1M575 638h1M577 638h2M580 638h1M585 638h1M587 638h1M590 638h4M595 638h3M604 638h1M606 638h1M609 638h1M611 638h4M616 638h3M622 638h5M628 638h2M632 638h4M637 638h2M641 638h3M645 638h4M653 638h1M658 638h1M661 638h1M669 638h1M671 638h1M689 638h1M929 638h1M156 639h13M490 639h1M510 639h1M557 639h1M567 639h1M571 639h2M574 639h2M585 639h1M588 639h1M594 639h1M596 639h1M599 639h1M603 639h1M606 639h4M611 639h1M614 639h8M623 639h7M632 639h6M639 639h8M648 639h5M654 639h1M656 639h4M661 639h1M672 639h1M681 639h1M683 639h2M687 639h1M691 639h1M699 639h1M929 639h1M156 640h14M509 640h1M531 640h1M543 640h1M555 640h2M559 640h1M561 640h2M566 640h1M577 640h1M581 640h1M591 640h2M594 640h2M598 640h1M602 640h3M606 640h5M613 640h1M615 640h3M619 640h4M626 640h2M629 640h4M634 640h4M640 640h1M642 640h1M644 640h1M646 640h1M652 640h1M654 640h1M658 640h3M662 640h1M669 640h2M676 640h2M680 640h1M684 640h1M686 640h1M703 640h1M929 640h1M156 641h17M174 641h4M179 641h2M521 641h1M523 641h1M549 641h1M552 641h1M554 641h1M556 641h1M565 641h1M569 641h1M572 641h2M588 641h2M594 641h2M597 641h6M604 641h1M606 641h3M613 641h9M623 641h15M639 641h3M643 641h8M652 641h1M654 641h2M659 641h1M661 641h1M664 641h1M668 641h1M671 641h1M673 641h1M678 641h1M682 641h2M688 641h1M698 641h1M929 641h1M156 642h18M175 642h3M179 642h5M186 642h3M190 642h3M527 642h1M543 642h1M549 642h1M553 642h1M557 642h1M563 642h1M566 642h2M574 642h2M577 642h2M582 642h1M584 642h1M595 642h3M601 642h3M605 642h8M615 642h6M622 642h9M632 642h5M638 642h5M644 642h1M648 642h1M658 642h2M663 642h1M667 642h1M671 642h2M674 642h1M680 642h1M929 642h1M156 643h16M175 643h2M178 643h13M192 643h6M485 643h1M490 643h1M517 643h1M536 643h1M550 643h1M568 643h1M570 643h1M578 643h1M580 643h1M585 643h1M596 643h1M600 643h2M604 643h1M607 643h1M609 643h3M613 643h18M632 643h9M642 643h5M650 643h3M662 643h2M669 643h2M673 643h1M677 643h2M702 643h1M710 643h1M929 643h1M157 644h12M171 644h3M177 644h4M182 644h2M185 644h19M533 644h1M546 644h1M552 644h1M557 644h1M564 644h1M576 644h1M583 644h1M587 644h2M590 644h1M593 644h2M596 644h1M598 644h2M601 644h7M610 644h8M619 644h2M624 644h2M627 644h7M636 644h4M641 644h1M644 644h2M647 644h1M649 644h2M654 644h1M659 644h1M661 644h2M667 644h1M674 644h1M681 644h1M687 644h1M701 644h1M929 644h1M157 645h11M169 645h3M173 645h5M179 645h13M193 645h16M489 645h1M508 645h1M512 645h1M516 645h1M537 645h1M550 645h1M561 645h1M570 645h1M572 645h2M580 645h1M582 645h2M590 645h5M597 645h1M599 645h1M602 645h4M607 645h3M611 645h1M613 645h6M620 645h1M622 645h6M629 645h8M638 645h2M641 645h3M645 645h1M649 645h4M654 645h1M661 645h1M664 645h1M668 645h1M670 645h1M674 645h1M695 645h1M699 645h1M929 645h1M157 646h9M167 646h8M176 646h3M180 646h3M189 646h3M194 646h21M526 646h1M531 646h1M539 646h1M549 646h1M555 646h1M558 646h1M564 646h1M566 646h2M574 646h1M579 646h1M582 646h1M586 646h2M591 646h1M593 646h3M597 646h2M600 646h3M604 646h7M612 646h1M615 646h10M626 646h4M632 646h4M637 646h2M643 646h4M648 646h2M655 646h4M660 646h1M669 646h1M671 646h1M673 646h1M679 646h1M681 646h1M691 646h1M929 646h1M157 647h15M173 647h10M186 647h1M189 647h1M191 647h13M206 647h15M490 647h1M503 647h1M522 647h1M534 647h1M549 647h1M552 647h1M561 647h2M565 647h1M571 647h1M574 647h2M578 647h1M580 647h1M582 647h1M585 647h2M590 647h1M592 647h1M594 647h9M605 647h3M609 647h8M618 647h3M622 647h5M628 647h7M636 647h3M640 647h2M644 647h2M649 647h1M651 647h1M658 647h4M670 647h1M679 647h1M681 647h1M683 647h1M695 647h1M929 647h1M157 648h9M168 648h5M174 648h1M176 648h2M179 648h1M181 648h1M183 648h2M186 648h3M190 648h3M195 648h7M203 648h13M218 648h8M241 648h1M558 648h1M575 648h4M580 648h5M586 648h1M591 648h2M594 648h2M597 648h7M605 648h4M610 648h2M614 648h3M618 648h1M620 648h14M635 648h2M639 648h1M641 648h1M645 648h1M647 648h1M649 648h3M653 648h3M657 648h1M664 648h1M666 648h2M670 648h1M677 648h1M681 648h1M704 648h1M713 648h1M929 648h1M158 649h6M165 649h10M176 649h6M183 649h5M189 649h7M198 649h6M205 649h4M210 649h20M231 649h2M234 649h2M238 649h1M240 649h1M245 649h1M247 649h3M491 649h1M504 649h1M506 649h1M516 649h1M525 649h1M531 649h1M533 649h1M537 649h1M542 649h1M550 649h1M555 649h1M557 649h1M560 649h3M565 649h2M570 649h2M576 649h1M580 649h1M582 649h2M585 649h4M590 649h2M593 649h10M606 649h7M614 649h9M624 649h4M629 649h7M637 649h4M642 649h2M649 649h1M652 649h1M655 649h1M658 649h1M666 649h1M668 649h1M676 649h1M681 649h1M929 649h1M158 650h16M175 650h8M185 650h11M197 650h5M203 650h11M215 650h2M223 650h11M243 650h1M506 650h1M525 650h1M540 650h1M544 650h1M551 650h1M555 650h2M558 650h1M564 650h1M566 650h2M569 650h4M575 650h1M577 650h6M584 650h7M593 650h8M603 650h14M618 650h6M625 650h8M634 650h5M640 650h3M644 650h1M647 650h3M651 650h1M653 650h1M655 650h1M658 650h1M663 650h1M665 650h1M676 650h2M701 650h1M709 650h1M711 650h1M929 650h1M158 651h9M172 651h24M198 651h9M209 651h10M220 651h5M226 651h3M232 651h4M490 651h1M501 651h1M503 651h2M506 651h1M524 651h1M531 651h1M539 651h2M546 651h1M552 651h1M554 651h1M556 651h1M561 651h3M566 651h1M568 651h1M570 651h1M572 651h1M574 651h3M579 651h1M581 651h1M583 651h1M586 651h3M592 651h1M597 651h3M601 651h8M610 651h15M626 651h3M630 651h7M638 651h3M643 651h1M645 651h2M653 651h1M657 651h2M660 651h1M666 651h1M668 651h1M682 651h1M687 651h1M697 651h1M929 651h1M158 652h6M165 652h1M169 652h1M171 652h9M182 652h6M189 652h3M193 652h3M198 652h7M206 652h2M209 652h7M217 652h5M224 652h2M229 652h3M234 652h3M513 652h1M523 652h1M528 652h1M534 652h1M539 652h1M553 652h1M557 652h1M559 652h1M563 652h1M567 652h3M574 652h1M583 652h2M588 652h2M591 652h6M599 652h1M604 652h6M611 652h18M630 652h6M638 652h1M640 652h1M644 652h1M647 652h1M649 652h1M655 652h2M658 652h1M671 652h2M685 652h1M693 652h1M929 652h1M159 653h11M172 653h3M181 653h8M191 653h6M200 653h1M203 653h24M228 653h9M503 653h1M511 653h1M531 653h1M543 653h1M547 653h2M551 653h1M554 653h2M557 653h1M560 653h1M562 653h1M566 653h2M569 653h1M572 653h1M576 653h2M583 653h6M591 653h2M594 653h2M597 653h4M602 653h4M607 653h17M625 653h1M627 653h3M631 653h4M637 653h1M640 653h3M650 653h1M652 653h2M655 653h1M658 653h1M661 653h1M664 653h1M666 653h1M668 653h2M684 653h1M704 653h2M929 653h1M159 654h19M180 654h4M185 654h5M192 654h8M203 654h2M207 654h7M218 654h7M228 654h12M510 654h1M538 654h1M540 654h1M553 654h1M555 654h1M560 654h1M562 654h2M568 654h1M571 654h2M576 654h2M579 654h1M581 654h1M585 654h2M590 654h4M595 654h1M597 654h9M607 654h2M610 654h1M612 654h11M624 654h2M627 654h1M629 654h3M634 654h1M636 654h6M643 654h4M648 654h2M652 654h1M654 654h1M656 654h2M665 654h1M682 654h1M690 654h1M699 654h1M712 654h1M929 654h1M159 655h24M184 655h3M189 655h4M194 655h14M209 655h4M215 655h1M218 655h3M224 655h11M238 655h3M489 655h1M498 655h1M510 655h1M516 655h1M525 655h1M528 655h1M530 655h1M533 655h1M540 655h1M544 655h1M565 655h2M572 655h1M574 655h2M578 655h3M583 655h1M585 655h1M588 655h9M598 655h1M600 655h2M603 655h2M606 655h5M612 655h5M618 655h1M620 655h3M625 655h9M636 655h2M639 655h1M641 655h1M643 655h2M647 655h1M654 655h3M664 655h1M666 655h2M672 655h1M698 655h1M929 655h1M159 656h9M170 656h1M172 656h12M189 656h1M193 656h11M206 656h4M211 656h13M225 656h3M229 656h6M237 656h6M496 656h2M509 656h1M511 656h1M520 656h1M533 656h1M553 656h1M557 656h2M560 656h1M563 656h1M570 656h2M574 656h1M578 656h4M583 656h5M590 656h10M601 656h1M603 656h2M606 656h3M610 656h5M616 656h8M625 656h1M627 656h1M629 656h3M633 656h4M638 656h1M640 656h1M642 656h2M647 656h2M657 656h2M664 656h1M666 656h1M669 656h1M671 656h1M704 656h1M929 656h1M160 657h5M166 657h4M171 657h11M186 657h10M197 657h1M206 657h1M208 657h2M212 657h13M226 657h13M241 657h3M501 657h1M532 657h1M537 657h1M557 657h1M561 657h1M568 657h1M571 657h1M573 657h1M575 657h4M582 657h2M585 657h1M590 657h4M595 657h4M601 657h6M609 657h18M628 657h5M634 657h2M637 657h2M640 657h1M643 657h3M647 657h2M650 657h1M661 657h1M664 657h2M669 657h1M672 657h1M705 657h1M710 657h1M929 657h1M160 658h7M169 658h3M174 658h8M183 658h7M191 658h1M193 658h9M203 658h3M207 658h7M215 658h3M219 658h1M221 658h12M234 658h6M242 658h1M495 658h1M512 658h1M518 658h2M541 658h1M552 658h1M561 658h1M566 658h1M570 658h1M573 658h1M575 658h1M580 658h2M583 658h3M588 658h1M590 658h1M592 658h3M596 658h1M599 658h6M606 658h4M611 658h8M620 658h14M635 658h1M637 658h3M643 658h1M645 658h1M649 658h1M651 658h1M657 658h1M672 658h1M676 658h1M683 658h1M685 658h2M929 658h1M160 659h10M172 659h8M182 659h5M188 659h3M192 659h8M202 659h11M214 659h9M225 659h2M228 659h15M497 659h1M500 659h1M504 659h1M527 659h1M529 659h1M533 659h1M536 659h1M538 659h1M546 659h1M548 659h2M551 659h1M554 659h1M560 659h1M564 659h1M579 659h1M582 659h1M586 659h1M588 659h3M594 659h1M596 659h3M600 659h3M604 659h2M607 659h2M610 659h28M639 659h1M641 659h1M643 659h4M648 659h3M652 659h3M667 659h1M680 659h1M712 659h1M929 659h1M160 660h6M169 660h9M181 660h8M192 660h4M198 660h20M222 660h20M497 660h1M512 660h2M517 660h1M538 660h1M542 660h1M554 660h1M557 660h3M562 660h1M566 660h3M572 660h2M576 660h2M579 660h2M582 660h1M586 660h2M589 660h1M591 660h7M600 660h1M602 660h22M625 660h5M633 660h2M636 660h3M645 660h3M652 660h1M655 660h3M663 660h2M666 660h1M674 660h1M677 660h1M683 660h1M696 660h1M929 660h1M160 661h14M176 661h1M178 661h2M181 661h3M185 661h15M202 661h4M210 661h2M214 661h1M217 661h6M224 661h9M235 661h3M239 661h2M496 661h1M498 661h1M503 661h1M506 661h1M526 661h1M533 661h1M541 661h1M545 661h1M548 661h1M556 661h2M559 661h1M561 661h1M563 661h1M565 661h1M568 661h2M572 661h1M574 661h3M578 661h1M580 661h1M585 661h3M589 661h5M596 661h1M598 661h8M607 661h5M613 661h2M616 661h8M625 661h1M627 661h7M637 661h1M639 661h1M642 661h2M647 661h2M650 661h1M658 661h1M660 661h1M662 661h1M673 661h1M675 661h1M929 661h1M160 662h12M173 662h2M176 662h20M197 662h16M214 662h22M237 662h3M490 662h1M494 662h1M496 662h2M538 662h1M544 662h1M546 662h1M554 662h1M561 662h1M564 662h1M568 662h3M573 662h2M576 662h1M581 662h1M584 662h3M588 662h3M592 662h11M604 662h6M611 662h1M613 662h7M621 662h4M626 662h6M633 662h1M636 662h1M638 662h2M642 662h1M644 662h1M652 662h1M662 662h1M666 662h3M929 662h1M159 663h12M174 663h2M180 663h2M186 663h3M190 663h14M205 663h1M207 663h3M212 663h1M214 663h9M224 663h12M237 663h3M490 663h1M505 663h2M523 663h1M525 663h1M532 663h1M539 663h1M553 663h1M555 663h1M562 663h1M567 663h1M569 663h3M573 663h2M576 663h3M580 663h4M585 663h2M588 663h1M591 663h1M593 663h1M595 663h1M597 663h1M600 663h1M604 663h16M621 663h6M628 663h1M630 663h8M639 663h1M641 663h1M644 663h1M652 663h1M654 663h2M658 663h1M671 663h1M679 663h2M929 663h1M159 664h8M170 664h6M178 664h3M185 664h2M188 664h1M193 664h1M195 664h3M200 664h13M215 664h6M227 664h4M232 664h7M505 664h1M525 664h1M529 664h1M534 664h1M537 664h1M543 664h1M548 664h4M555 664h1M560 664h1M562 664h2M565 664h2M568 664h9M580 664h5M586 664h9M596 664h1M598 664h5M604 664h5M610 664h10M621 664h4M627 664h2M633 664h2M636 664h2M640 664h1M644 664h1M648 664h1M650 664h2M657 664h1M664 664h2M667 664h1M673 664h1M678 664h1M929 664h1M159 665h10M171 665h3M175 665h1M177 665h3M181 665h8M190 665h7M199 665h5M205 665h11M217 665h1M220 665h3M226 665h1M230 665h6M237 665h1M501 665h1M509 665h1M529 665h1M531 665h1M550 665h1M553 665h1M557 665h5M567 665h4M574 665h5M581 665h1M583 665h2M587 665h1M589 665h1M591 665h3M597 665h15M614 665h4M619 665h6M626 665h4M631 665h1M634 665h3M638 665h1M643 665h1M649 665h1M651 665h1M653 665h1M666 665h1M670 665h1M672 665h1M674 665h1M679 665h1M929 665h1M159 666h11M171 666h4M176 666h10M187 666h4M193 666h3M198 666h5M205 666h20M227 666h5M233 666h4M506 666h1M509 666h1M515 666h1M521 666h1M523 666h1M534 666h2M542 666h1M544 666h1M555 666h2M560 666h1M562 666h1M566 666h2M570 666h1M572 666h1M574 666h1M578 666h2M581 666h3M587 666h8M596 666h1M598 666h1M601 666h13M615 666h3M619 666h9M629 666h1M631 666h4M636 666h1M639 666h1M641 666h1M643 666h1M650 666h1M655 666h2M659 666h2M663 666h1M665 666h1M670 666h1M673 666h1M677 666h1M929 666h1M159 667h22M185 667h5M191 667h10M202 667h2M206 667h3M211 667h11M226 667h9M236 667h1M490 667h1M498 667h1M512 667h1M525 667h1M530 667h1M533 667h1M536 667h1M543 667h1M551 667h1M553 667h1M556 667h1M563 667h2M567 667h1M569 667h1M574 667h2M578 667h7M586 667h4M593 667h4M598 667h3M602 667h6M609 667h3M614 667h1M616 667h11M628 667h2M631 667h3M635 667h2M638 667h1M645 667h3M649 667h1M651 667h1M658 667h1M660 667h1M674 667h1M688 667h1M929 667h1M159 668h9M170 668h8M182 668h9M194 668h4M201 668h1M208 668h7M216 668h6M228 668h2M231 668h6M505 668h1M509 668h1M530 668h2M540 668h2M555 668h1M563 668h2M571 668h1M573 668h4M581 668h1M583 668h1M585 668h3M590 668h4M596 668h5M602 668h2M605 668h2M609 668h5M615 668h8M624 668h2M628 668h3M636 668h1M640 668h2M643 668h2M648 668h1M651 668h1M656 668h1M929 668h1M159 669h6M170 669h4M179 669h6M187 669h2M190 669h7M198 669h2M205 669h4M210 669h10M221 669h3M226 669h1M233 669h5M483 669h1M487 669h1M493 669h1M524 669h1M533 669h1M537 669h1M542 669h1M548 669h2M551 669h1M554 669h1M558 669h2M566 669h1M575 669h5M582 669h6M589 669h1M591 669h1M593 669h20M614 669h2M617 669h1M619 669h1M621 669h2M625 669h5M631 669h2M634 669h1M636 669h1M640 669h1M645 669h1M649 669h1M655 669h1M657 669h1M659 669h1M662 669h2M699 669h2M720 669h1M929 669h1M159 670h8M170 670h4M175 670h3M179 670h5M186 670h5M193 670h5M202 670h6M211 670h19M231 670h6M498 670h1M501 670h1M512 670h1M529 670h1M541 670h1M548 670h1M552 670h1M554 670h1M557 670h2M565 670h2M571 670h3M575 670h8M585 670h1M587 670h5M593 670h1M595 670h1M597 670h13M611 670h6M618 670h1M620 670h11M633 670h6M643 670h2M646 670h3M651 670h1M659 670h1M666 670h2M674 670h1M679 670h1M688 670h1M710 670h1M929 670h1M158 671h3M162 671h8M171 671h1M173 671h6M180 671h13M194 671h7M202 671h4M211 671h6M221 671h1M224 671h3M228 671h10M482 671h1M508 671h1M517 671h1M526 671h1M531 671h1M533 671h1M538 671h1M544 671h2M548 671h1M553 671h1M556 671h1M560 671h1M564 671h1M568 671h2M573 671h1M577 671h1M579 671h3M583 671h1M585 671h11M597 671h1M599 671h6M606 671h1M608 671h15M624 671h2M627 671h1M629 671h3M633 671h3M637 671h7M645 671h1M652 671h1M667 671h1M673 671h2M692 671h1M699 671h1M716 671h1M929 671h1M158 672h16M175 672h3M179 672h6M186 672h2M189 672h15M205 672h23M229 672h1M231 672h8M482 672h1M492 672h1M503 672h1M508 672h2M532 672h1M544 672h1M552 672h1M559 672h1M561 672h1M566 672h3M572 672h1M574 672h2M577 672h10M588 672h2M591 672h1M594 672h1M596 672h20M617 672h9M628 672h1M631 672h1M633 672h2M636 672h3M641 672h1M645 672h3M650 672h1M654 672h2M657 672h1M675 672h1M929 672h1M158 673h6M167 673h5M173 673h2M176 673h6M183 673h4M201 673h1M204 673h3M208 673h3M212 673h5M218 673h11M231 673h8M485 673h1M496 673h2M511 673h2M523 673h1M528 673h1M549 673h1M555 673h1M559 673h2M563 673h1M569 673h1M574 673h1M582 673h4M588 673h5M594 673h32M628 673h5M634 673h1M637 673h3M642 673h1M645 673h1M648 673h1M655 673h1M657 673h1M660 673h1M669 673h2M674 673h1M684 673h2M690 673h1M929 673h1M158 674h7M170 674h3M178 674h3M182 674h3M187 674h1M190 674h2M198 674h6M207 674h3M215 674h6M224 674h1M227 674h3M232 674h2M236 674h3M498 674h1M508 674h1M511 674h1M516 674h1M520 674h1M549 674h1M551 674h1M554 674h2M560 674h1M567 674h1M569 674h3M576 674h1M578 674h3M582 674h2M586 674h1M588 674h1M590 674h9M600 674h4M605 674h2M608 674h7M617 674h1M619 674h4M625 674h1M627 674h3M631 674h6M640 674h2M643 674h1M648 674h1M651 674h1M660 674h1M662 674h1M669 674h1M675 674h1M929 674h1M158 675h7M179 675h3M183 675h4M194 675h8M209 675h1M212 675h4M220 675h4M225 675h3M229 675h3M233 675h2M237 675h1M239 675h1M481 675h1M486 675h1M491 675h1M503 675h1M509 675h1M520 675h1M528 675h2M552 675h1M560 675h1M563 675h1M565 675h2M568 675h2M572 675h2M577 675h2M582 675h3M586 675h5M593 675h8M602 675h9M612 675h11M624 675h1M627 675h2M630 675h2M633 675h1M635 675h2M645 675h2M651 675h1M655 675h1M659 675h1M663 675h1M671 675h1M696 675h1M929 675h1M158 676h7M166 676h1M172 676h3M180 676h3M185 676h3M194 676h2M205 676h16M222 676h11M234 676h2M238 676h2M490 676h1M533 676h2M536 676h1M543 676h1M546 676h1M548 676h2M551 676h1M554 676h1M571 676h4M576 676h1M578 676h1M580 676h1M582 676h3M588 676h1M591 676h5M597 676h1M599 676h4M604 676h14M619 676h1M622 676h2M625 676h5M631 676h1M634 676h1M637 676h3M641 676h1M650 676h3M654 676h1M657 676h1M660 676h1M663 676h2M929 676h1M158 677h11M177 677h3M202 677h8M211 677h3M217 677h6M226 677h1M228 677h13M500 677h1M502 677h1M506 677h1M520 677h1M535 677h1M542 677h1M550 677h1M552 677h1M558 677h1M560 677h2M564 677h1M568 677h2M575 677h3M579 677h1M581 677h1M583 677h1M586 677h2M590 677h2M593 677h6M600 677h1M602 677h1M604 677h6M611 677h2M614 677h2M617 677h3M623 677h1M625 677h2M628 677h2M634 677h3M638 677h2M641 677h1M646 677h4M652 677h1M675 677h1M689 677h1M708 677h1M929 677h1M158 678h5M173 678h1M182 678h1M184 678h3M188 678h1M193 678h2M200 678h3M204 678h11M222 678h6M230 678h10M480 678h1M512 678h1M524 678h1M541 678h1M543 678h3M548 678h1M552 678h2M556 678h1M559 678h2M562 678h1M565 678h1M567 678h1M569 678h1M572 678h3M578 678h1M584 678h2M587 678h1M592 678h5M598 678h5M604 678h3M608 678h1M610 678h3M614 678h3M618 678h4M623 678h1M625 678h1M627 678h1M633 678h1M640 678h1M644 678h2M650 678h2M671 678h1M929 678h1M158 679h7M166 679h1M168 679h1M170 679h5M179 679h9M190 679h3M195 679h1M200 679h1M207 679h4M214 679h1M218 679h4M225 679h2M228 679h3M232 679h3M237 679h1M240 679h2M494 679h1M516 679h2M525 679h1M531 679h1M535 679h1M547 679h1M553 679h1M556 679h1M567 679h1M569 679h1M576 679h5M582 679h1M584 679h13M598 679h6M605 679h3M609 679h1M612 679h1M614 679h1M616 679h8M626 679h3M631 679h2M636 679h1M645 679h1M647 679h2M672 679h1M929 679h1M158 680h9M170 680h3M175 680h3M180 680h3M184 680h1M192 680h3M197 680h3M201 680h2M204 680h9M215 680h3M220 680h6M228 680h14M490 680h1M495 680h1M497 680h1M505 680h1M525 680h1M531 680h1M537 680h1M550 680h1M553 680h1M559 680h1M562 680h1M565 680h1M568 680h1M574 680h2M577 680h1M579 680h1M582 680h4M587 680h4M593 680h2M596 680h2M599 680h2M602 680h5M608 680h1M610 680h4M621 680h1M624 680h7M632 680h3M636 680h1M638 680h1M640 680h1M642 680h1M644 680h1M664 680h1M702 680h1M719 680h1M929 680h1M158 681h8M169 681h2M172 681h11M184 681h3M188 681h1M192 681h1M194 681h16M211 681h9M221 681h9M231 681h6M240 681h3M492 681h1M495 681h1M501 681h1M518 681h1M521 681h1M524 681h1M533 681h1M541 681h1M547 681h1M553 681h1M556 681h1M558 681h1M561 681h4M566 681h1M569 681h4M575 681h1M578 681h5M585 681h1M588 681h2M592 681h2M595 681h6M602 681h1M606 681h7M615 681h2M618 681h1M621 681h1M624 681h3M631 681h2M636 681h1M638 681h1M643 681h1M652 681h1M668 681h2M671 681h1M673 681h1M676 681h1M687 681h1M693 681h1M929 681h1M158 682h6M166 682h3M172 682h5M179 682h8M189 682h2M194 682h3M200 682h4M205 682h13M219 682h1M221 682h2M224 682h5M230 682h3M234 682h6M241 682h2M482 682h1M506 682h1M515 682h1M517 682h1M528 682h1M538 682h1M545 682h2M553 682h1M558 682h1M562 682h1M566 682h1M569 682h1M571 682h1M575 682h4M580 682h5M586 682h5M593 682h2M596 682h3M600 682h1M602 682h1M604 682h2M607 682h2M611 682h2M614 682h2M617 682h1M619 682h2M630 682h2M637 682h1M640 682h1M647 682h1M649 682h1M655 682h1M669 682h1M929 682h1M158 683h7M166 683h2M174 683h1M178 683h3M185 683h4M191 683h3M197 683h5M208 683h2M211 683h12M225 683h3M230 683h5M236 683h3M242 683h1M518 683h1M521 683h1M525 683h1M537 683h1M550 683h1M556 683h1M563 683h1M565 683h2M569 683h2M573 683h2M577 683h1M580 683h1M582 683h6M589 683h1M591 683h1M593 683h3M597 683h2M600 683h7M609 683h4M614 683h1M616 683h1M618 683h2M623 683h2M629 683h1M631 683h1M633 683h1M635 683h4M643 683h1M649 683h3M653 683h1M658 683h1M676 683h1M711 683h1M714 683h1M929 683h1M158 684h9M170 684h4M178 684h4M183 684h1M185 684h6M198 684h3M207 684h4M213 684h8M222 684h1M225 684h1M231 684h3M238 684h2M500 684h1M507 684h1M519 684h1M525 684h1M538 684h1M542 684h1M549 684h1M554 684h4M564 684h1M570 684h2M578 684h3M584 684h1M586 684h1M588 684h2M591 684h4M596 684h2M600 684h2M603 684h1M608 684h4M615 684h1M617 684h1M619 684h1M621 684h4M627 684h3M631 684h1M634 684h2M643 684h1M647 684h1M649 684h1M653 684h1M660 684h1M664 684h1M678 684h1M684 684h1M690 684h1M929 684h1M158 685h5M168 685h6M175 685h2M178 685h5M195 685h7M203 685h2M212 685h4M219 685h2M222 685h2M230 685h8M239 685h5M497 685h1M512 685h1M541 685h1M545 685h1M549 685h1M554 685h1M559 685h2M562 685h1M564 685h1M566 685h3M572 685h2M575 685h2M579 685h5M585 685h3M591 685h11M603 685h12M617 685h1M619 685h2M623 685h2M626 685h2M632 685h1M634 685h1M640 685h2M649 685h1M653 685h1M658 685h1M929 685h1M158 686h10M170 686h1M173 686h2M177 686h5M196 686h4M206 686h2M209 686h2M212 686h2M215 686h4M221 686h5M227 686h1M229 686h4M234 686h5M241 686h4M490 686h1M511 686h2M525 686h1M535 686h1M539 686h1M546 686h2M549 686h1M553 686h1M556 686h3M561 686h3M569 686h1M571 686h1M575 686h1M577 686h1M581 686h2M584 686h2M587 686h3M591 686h2M594 686h1M596 686h1M598 686h1M601 686h2M604 686h5M611 686h1M615 686h3M619 686h2M622 686h4M628 686h1M630 686h2M633 686h3M641 686h1M650 686h1M672 686h1M679 686h1M929 686h1M158 687h3M163 687h2M167 687h4M173 687h1M184 687h4M193 687h2M205 687h3M209 687h1M213 687h4M220 687h11M233 687h4M240 687h5M506 687h1M522 687h1M536 687h1M538 687h2M543 687h1M552 687h1M555 687h1M560 687h1M569 687h4M574 687h1M577 687h2M580 687h2M583 687h2M587 687h6M594 687h5M600 687h1M603 687h2M606 687h1M608 687h1M610 687h1M612 687h5M618 687h1M620 687h1M622 687h4M627 687h2M630 687h2M633 687h1M635 687h2M639 687h1M645 687h1M648 687h2M651 687h1M929 687h1M158 688h4M165 688h1M167 688h5M181 688h3M186 688h1M190 688h3M200 688h1M204 688h1M206 688h6M213 688h4M220 688h2M226 688h2M229 688h2M233 688h2M239 688h3M244 688h1M497 688h1M503 688h1M520 688h1M527 688h2M532 688h1M534 688h1M539 688h1M547 688h1M550 688h1M558 688h1M560 688h1M567 688h1M570 688h2M573 688h1M575 688h1M577 688h4M582 688h1M586 688h2M592 688h1M594 688h3M598 688h2M601 688h1M603 688h1M605 688h6M612 688h3M616 688h1M618 688h1M620 688h1M622 688h4M628 688h1M630 688h2M633 688h1M648 688h1M657 688h1M661 688h3M670 688h1M676 688h1M929 688h1M158 689h9M174 689h1M180 689h2M183 689h2M186 689h1M191 689h15M208 689h10M223 689h9M236 689h4M243 689h3M497 689h1M522 689h1M530 689h1M533 689h2M537 689h1M541 689h3M545 689h2M552 689h1M557 689h1M560 689h1M562 689h1M565 689h1M568 689h1M574 689h1M579 689h1M581 689h1M583 689h4M588 689h8M598 689h1M600 689h2M603 689h2M607 689h3M611 689h1M614 689h1M617 689h4M622 689h2M625 689h2M628 689h1M633 689h1M635 689h1M641 689h1M645 689h1M647 689h1M649 689h1M658 689h1M666 689h1M688 689h1M929 689h1M158 690h3M162 690h1M170 690h3M175 690h3M179 690h1M183 690h2M190 690h1M197 690h3M203 690h1M208 690h11M220 690h1M225 690h5M235 690h1M240 690h7M490 690h1M532 690h1M535 690h1M537 690h3M546 690h2M549 690h1M551 690h1M553 690h1M559 690h1M562 690h1M564 690h2M569 690h2M573 690h3M577 690h1M580 690h1M585 690h1M587 690h1M591 690h1M593 690h3M598 690h1M600 690h2M604 690h1M606 690h3M610 690h1M614 690h1M617 690h1M620 690h1M625 690h1M627 690h2M632 690h2M639 690h2M644 690h1M653 690h2M662 690h2M674 690h1M682 690h1M929 690h1M159 691h3M164 691h1M167 691h1M171 691h2M176 691h2M181 691h2M187 691h2M200 691h3M205 691h3M209 691h3M217 691h2M221 691h5M227 691h2M230 691h5M237 691h3M241 691h3M245 691h2M490 691h1M506 691h1M542 691h2M545 691h1M547 691h1M552 691h2M557 691h2M560 691h1M567 691h4M574 691h1M579 691h2M585 691h1M587 691h1M589 691h2M593 691h1M597 691h3M602 691h3M607 691h1M610 691h1M612 691h1M614 691h6M624 691h2M629 691h3M633 691h2M636 691h1M638 691h3M642 691h1M663 691h1M666 691h2M693 691h1M929 691h1M159 692h4M164 692h3M169 692h5M177 692h3M185 692h1M200 692h3M206 692h2M210 692h3M214 692h2M218 692h3M227 692h4M235 692h1M238 692h3M245 692h2M497 692h1M506 692h1M520 692h1M522 692h1M526 692h2M542 692h1M547 692h1M550 692h1M553 692h2M557 692h1M560 692h1M564 692h1M567 692h1M575 692h1M577 692h1M579 692h1M581 692h5M589 692h4M595 692h2M599 692h2M602 692h7M612 692h2M618 692h1M623 692h3M627 692h4M641 692h1M649 692h1M653 692h1M656 692h1M658 692h1M661 692h1M670 692h1M677 692h1M685 692h1M721 692h1M929 692h1M159 693h5M169 693h3M174 693h1M182 693h6M195 693h3M210 693h2M216 693h22M246 693h1M493 693h1M495 693h1M533 693h5M544 693h2M550 693h1M560 693h1M562 693h2M568 693h1M571 693h3M575 693h3M579 693h2M582 693h1M585 693h4M591 693h2M594 693h1M600 693h1M602 693h1M605 693h3M609 693h1M611 693h1M613 693h2M618 693h3M622 693h2M626 693h1M630 693h1M634 693h2M639 693h2M643 693h1M658 693h1M663 693h1M666 693h1M680 693h1M689 693h1M696 693h1M717 693h1M929 693h1M159 694h4M171 694h3M182 694h3M192 694h4M205 694h5M211 694h2M225 694h1M231 694h5M240 694h2M247 694h1M499 694h1M505 694h1M518 694h1M520 694h4M526 694h1M538 694h1M541 694h2M548 694h2M551 694h1M564 694h2M567 694h1M569 694h1M574 694h1M579 694h4M584 694h2M587 694h1M590 694h3M594 694h4M599 694h5M605 694h2M611 694h7M619 694h4M625 694h1M632 694h1M642 694h1M645 694h2M651 694h1M666 694h2M669 694h1M675 694h1M700 694h1M929 694h1M159 695h3M175 695h4M187 695h2M194 695h1M199 695h2M202 695h1M205 695h2M211 695h2M216 695h3M222 695h3M226 695h1M231 695h3M235 695h3M246 695h2M497 695h1M512 695h1M523 695h1M533 695h1M538 695h1M540 695h1M542 695h1M544 695h1M553 695h1M561 695h1M569 695h1M572 695h1M574 695h1M576 695h2M580 695h1M582 695h1M584 695h1M588 695h1M591 695h1M597 695h1M599 695h2M611 695h6M619 695h1M625 695h2M628 695h1M630 695h1M634 695h1M636 695h2M641 695h1M646 695h1M660 695h2M664 695h1M671 695h1M681 695h1M707 695h1M929 695h1M158 696h5M165 696h2M169 696h1M174 696h3M191 696h5M199 696h5M205 696h6M219 696h6M228 696h1M232 696h7M245 696h2M489 696h1M501 696h1M509 696h1M519 696h1M524 696h1M531 696h1M538 696h4M544 696h1M547 696h1M554 696h1M558 696h1M561 696h1M569 696h1M573 696h3M577 696h1M580 696h2M583 696h1M585 696h1M588 696h1M590 696h1M597 696h2M601 696h3M608 696h1M610 696h2M613 696h4M618 696h2M623 696h2M628 696h1M630 696h1M633 696h3M641 696h1M645 696h1M649 696h1M655 696h1M680 696h1M709 696h1M929 696h1M158 697h11M171 697h2M184 697h2M188 697h1M192 697h4M202 697h2M210 697h1M212 697h1M217 697h7M225 697h4M236 697h6M244 697h2M490 697h1M495 697h1M500 697h1M518 697h1M521 697h1M527 697h1M536 697h1M541 697h1M543 697h2M546 697h1M550 697h1M553 697h1M559 697h1M563 697h1M567 697h2M570 697h1M573 697h1M575 697h1M577 697h3M581 697h3M585 697h2M589 697h3M593 697h3M597 697h1M600 697h1M603 697h5M609 697h1M611 697h3M618 697h3M624 697h6M635 697h1M640 697h1M642 697h1M647 697h1M654 697h1M685 697h1M929 697h1M158 698h7M172 698h6M185 698h3M192 698h3M207 698h5M214 698h3M220 698h4M226 698h3M233 698h3M239 698h2M244 698h1M492 698h1M496 698h1M506 698h1M529 698h1M536 698h1M546 698h1M550 698h1M552 698h1M563 698h1M567 698h5M576 698h1M578 698h1M581 698h5M594 698h1M597 698h3M602 698h2M605 698h1M609 698h2M612 698h3M618 698h1M620 698h1M624 698h2M633 698h1M637 698h1M647 698h1M652 698h1M662 698h1M664 698h1M691 698h1M700 698h1M702 698h1M929 698h1M158 699h6M169 699h3M173 699h2M192 699h1M196 699h2M200 699h3M205 699h6M213 699h2M223 699h6M232 699h4M240 699h2M243 699h2M490 699h1M503 699h1M515 699h1M524 699h1M539 699h1M542 699h2M551 699h1M555 699h1M558 699h1M569 699h1M571 699h1M576 699h3M580 699h1M584 699h1M587 699h3M591 699h1M596 699h3M601 699h1M603 699h5M609 699h1M611 699h3M615 699h2M622 699h1M625 699h1M632 699h2M636 699h1M641 699h1M645 699h1M654 699h1M708 699h1M929 699h1M158 700h5M166 700h3M176 700h1M184 700h1M189 700h3M193 700h3M205 700h5M217 700h1M229 700h3M234 700h2M238 700h7M490 700h1M525 700h1M536 700h1M538 700h1M543 700h1M545 700h1M550 700h1M556 700h1M571 700h3M578 700h2M586 700h1M588 700h2M591 700h5M598 700h1M600 700h2M603 700h2M607 700h1M609 700h1M614 700h1M617 700h1M620 700h1M626 700h1M631 700h1M633 700h3M646 700h1M649 700h1M653 700h1M661 700h1M929 700h1M158 701h5M173 701h3M180 701h4M188 701h1M192 701h3M197 701h2M206 701h2M214 701h5M220 701h2M223 701h1M226 701h2M235 701h8M500 701h1M502 701h1M512 701h1M514 701h1M521 701h1M530 701h1M532 701h1M538 701h1M541 701h1M554 701h2M564 701h1M567 701h1M570 701h2M578 701h1M580 701h2M583 701h1M586 701h4M595 701h3M601 701h1M607 701h4M612 701h1M614 701h2M618 701h3M625 701h1M631 701h2M635 701h1M651 701h1M929 701h1M158 702h5M165 702h3M169 702h3M174 702h1M185 702h3M189 702h3M194 702h2M201 702h1M213 702h5M220 702h4M225 702h7M235 702h5M503 702h1M505 702h1M508 702h1M516 702h2M538 702h1M546 702h1M548 702h1M553 702h1M556 702h1M559 702h3M563 702h1M567 702h1M569 702h1M573 702h3M578 702h1M587 702h2M591 702h3M597 702h1M602 702h2M605 702h1M609 702h2M612 702h1M614 702h1M616 702h3M621 702h3M628 702h1M633 702h1M637 702h4M646 702h1M652 702h1M660 702h1M714 702h1M929 702h1M158 703h4M164 703h1M167 703h2M171 703h24M198 703h4M203 703h2M210 703h3M216 703h3M223 703h3M231 703h2M235 703h3M490 703h1M540 703h1M544 703h2M549 703h1M562 703h1M565 703h1M571 703h1M577 703h2M580 703h1M584 703h1M587 703h3M594 703h1M597 703h3M605 703h1M607 703h1M611 703h3M615 703h1M617 703h2M621 703h1M625 703h1M634 703h2M647 703h1M661 703h1M676 703h1M929 703h1M158 704h5M166 704h4M175 704h7M184 704h3M188 704h1M200 704h3M211 704h4M217 704h2M220 704h3M231 704h5M514 704h1M517 704h1M523 704h1M527 704h1M531 704h1M533 704h1M544 704h1M548 704h1M550 704h2M554 704h1M561 704h1M565 704h1M578 704h1M585 704h1M587 704h1M591 704h1M594 704h2M600 704h3M606 704h1M611 704h1M617 704h1M619 704h2M622 704h1M624 704h1M628 704h1M631 704h1M635 704h1M637 704h1M639 704h1M651 704h2M660 704h2M672 704h1M717 704h1M929 704h1M158 705h3M162 705h3M170 705h1M173 705h11M506 705h1M525 705h1M529 705h1M534 705h1M543 705h1M551 705h1M555 705h1M558 705h1M562 705h1M567 705h1M570 705h1M573 705h1M577 705h1M580 705h1M582 705h1M584 705h2M590 705h1M594 705h1M600 705h1M605 705h2M610 705h2M613 705h1M619 705h4M625 705h1M627 705h1M629 705h1M633 705h2M639 705h1M643 705h1M660 705h1M674 705h1M695 705h1M710 705h1M929 705h1M158 706h6M166 706h3M173 706h7M493 706h1M498 706h1M506 706h1M539 706h1M545 706h1M553 706h1M556 706h1M562 706h1M567 706h1M569 706h1M573 706h2M576 706h1M579 706h1M581 706h2M585 706h1M594 706h1M597 706h2M601 706h1M603 706h1M606 706h1M609 706h2M614 706h1M616 706h1M619 706h3M624 706h1M627 706h1M630 706h1M633 706h1M635 706h1M639 706h1M651 706h1M656 706h1M658 706h1M713 706h1M929 706h1M158 707h3M164 707h4M170 707h5M177 707h1M490 707h1M497 707h1M502 707h1M508 707h1M520 707h1M524 707h1M536 707h1M539 707h1M552 707h1M563 707h1M565 707h3M569 707h1M574 707h1M576 707h1M579 707h1M581 707h1M585 707h1M587 707h1M591 707h3M599 707h2M602 707h2M605 707h2M612 707h1M622 707h2M626 707h1M628 707h1M639 707h1M645 707h1M672 707h1M674 707h1M676 707h2M691 707h1M703 707h1M929 707h1M158 708h4M163 708h1M166 708h5M173 708h3M178 708h3M490 708h1M492 708h1M510 708h1M517 708h2M531 708h1M539 708h2M545 708h1M549 708h2M557 708h1M560 708h2M570 708h1M572 708h1M575 708h2M582 708h1M586 708h2M589 708h1M591 708h1M594 708h1M602 708h2M609 708h1M612 708h2M616 708h1M619 708h1M626 708h1M629 708h1M633 708h1M642 708h1M645 708h1M702 708h1M929 708h1M158 709h5M167 709h1M170 709h4M482 709h2M491 709h1M506 709h1M522 709h1M540 709h1M543 709h1M549 709h2M560 709h2M564 709h1M570 709h1M573 709h2M577 709h1M581 709h1M583 709h1M585 709h2M591 709h1M594 709h1M599 709h1M603 709h1M605 709h1M607 709h2M610 709h1M615 709h4M622 709h1M633 709h1M636 709h1M649 709h1M656 709h1M659 709h1M672 709h1M929 709h1M157 710h5M163 710h2M172 710h1M176 710h1M179 710h1M481 710h1M490 710h1M496 710h1M502 710h1M509 710h2M522 710h1M548 710h1M550 710h1M566 710h1M572 710h1M578 710h2M581 710h1M585 710h1M588 710h1M593 710h1M597 710h1M601 710h4M606 710h2M611 710h2M615 710h1M617 710h2M620 710h2M626 710h1M629 710h1M633 710h1M640 710h3M644 710h1M653 710h1M665 710h1M679 710h1M929 710h1M158 711h4M166 711h4M490 711h1M500 711h1M509 711h1M514 711h2M530 711h1M542 711h1M545 711h2M564 711h1M571 711h1M575 711h1M577 711h1M582 711h3M586 711h1M591 711h1M593 711h1M595 711h1M600 711h2M605 711h1M610 711h1M612 711h1M615 711h2M619 711h1M626 711h2M631 711h2M634 711h1M637 711h2M649 711h1M653 711h1M666 711h1M696 711h1M929 711h1M158 712h2M168 712h5M175 712h4M490 712h1M496 712h1M504 712h1M528 712h1M530 712h1M540 712h2M545 712h1M547 712h1M551 712h1M560 712h2M567 712h2M571 712h2M577 712h1M582 712h1M589 712h1M594 712h1M599 712h2M605 712h1M607 712h1M612 712h3M616 712h1M619 712h1M621 712h1M625 712h1M631 712h1M636 712h3M642 712h2M654 712h1M686 712h1M929 712h1M158 713h2M161 713h2M168 713h1M481 713h1M497 713h2M524 713h1M530 713h1M532 713h1M546 713h1M549 713h1M552 713h1M560 713h1M566 713h1M569 713h1M572 713h1M574 713h1M580 713h1M586 713h1M592 713h1M595 713h1M602 713h1M610 713h5M617 713h2M627 713h1M629 713h1M635 713h1M637 713h1M639 713h3M645 713h1M648 713h1M687 713h1M929 713h1M158 714h2M162 714h3M170 714h6M519 714h1M530 714h1M540 714h3M551 714h1M553 714h1M560 714h2M575 714h1M585 714h1M588 714h1M595 714h2M601 714h1M605 714h1M607 714h2M612 714h1M616 714h2M621 714h1M625 714h1M629 714h1M633 714h1M635 714h1M637 714h1M639 714h1M641 714h1M645 714h1M658 714h1M670 714h1M929 714h1M157 715h9M172 715h3M490 715h1M512 715h2M515 715h1M528 715h1M531 715h1M537 715h1M541 715h1M544 715h1M546 715h1M549 715h1M562 715h1M564 715h1M568 715h1M570 715h2M576 715h1M584 715h1M586 715h1M590 715h1M601 715h1M607 715h3M611 715h1M613 715h1M615 715h1M617 715h2M622 715h2M627 715h1M631 715h1M642 715h1M651 715h1M657 715h1M661 715h1M929 715h1M158 716h4M164 716h2M495 716h1M497 716h1M506 716h1M509 716h1M513 716h1M536 716h1M541 716h1M547 716h1M555 716h2M563 716h1M565 716h1M571 716h1M573 716h1M581 716h1M584 716h1M586 716h2M590 716h4M598 716h1M600 716h1M605 716h1M609 716h1M615 716h1M619 716h1M623 716h1M642 716h1M650 716h1M656 716h1M665 716h1M677 716h1M682 716h1M685 716h1M704 716h1M929 716h1M158 717h6M167 717h2M171 717h3M490 717h1M517 717h1M534 717h1M542 717h1M544 717h1M547 717h1M558 717h1M572 717h1M575 717h2M578 717h2M584 717h2M588 717h1M591 717h3M596 717h1M603 717h1M612 717h1M618 717h1M646 717h1M671 717h1M675 717h1M679 717h1M714 717h1M929 717h1M157 718h4M165 718h4M479 718h1M503 718h2M506 718h1M508 718h1M510 718h1M534 718h1M538 718h1M547 718h1M549 718h1M554 718h2M562 718h1M567 718h1M571 718h2M575 718h1M577 718h1M581 718h1M583 718h1M585 718h1M588 718h2M593 718h1M597 718h2M603 718h2M606 718h1M610 718h1M614 718h1M623 718h1M625 718h2M630 718h2M635 718h2M641 718h1M685 718h1M929 718h1M157 719h3M161 719h8M171 719h1M507 719h1M517 719h1M529 719h1M534 719h1M538 719h1M545 719h1M547 719h1M563 719h1M566 719h1M576 719h1M579 719h1M582 719h1M598 719h2M602 719h1M608 719h1M625 719h1M630 719h1M632 719h1M651 719h1M687 719h1M724 719h1M929 719h1M157 720h5M508 720h1M528 720h2M531 720h1M543 720h2M547 720h1M551 720h1M555 720h1M559 720h1M561 720h1M570 720h2M573 720h1M578 720h1M581 720h1M583 720h1M592 720h1M594 720h1M601 720h4M606 720h3M611 720h1M613 720h1M615 720h1M618 720h6M639 720h1M650 720h1M655 720h1M674 720h1M689 720h1M929 720h1M157 721h5M164 721h1M169 721h1M498 721h1M506 721h1M515 721h1M536 721h1M547 721h1M551 721h2M560 721h1M569 721h1M573 721h1M577 721h1M581 721h2M585 721h2M589 721h1M596 721h1M605 721h1M609 721h1M654 721h1M657 721h1M660 721h1M666 721h1M681 721h1M929 721h1M157 722h6M166 722h1M485 722h1M490 722h1M500 722h1M509 722h1M512 722h1M539 722h1M546 722h1M548 722h1M562 722h1M568 722h1M570 722h2M577 722h1M579 722h1M586 722h1M590 722h1M592 722h1M594 722h2M601 722h1M608 722h1M618 722h1M620 722h1M622 722h1M625 722h2M644 722h1M646 722h1M672 722h1M713 722h1M929 722h1M157 723h3M161 723h2M489 723h1M493 723h1M507 723h1M539 723h1M552 723h1M554 723h1M568 723h2M572 723h1M576 723h1M579 723h2M583 723h1M585 723h1M589 723h1M591 723h1M595 723h1M599 723h1M608 723h1M611 723h1M613 723h1M618 723h1M622 723h2M627 723h1M631 723h1M639 723h1M641 723h1M656 723h1M658 723h1M663 723h1M667 723h1M929 723h1M157 724h3M162 724h3M167 724h1M529 724h1M532 724h1M548 724h1M551 724h1M554 724h1M567 724h1M573 724h1M576 724h1M578 724h1M584 724h1M586 724h1M592 724h1M594 724h3M599 724h1M601 724h1M605 724h1M607 724h2M610 724h1M612 724h1M614 724h1M624 724h1M642 724h1M645 724h1M650 724h1M670 724h1M678 724h1M708 724h1M929 724h1M157 725h3M162 725h5M494 725h1M497 725h2M509 725h1M544 725h1M546 725h1M563 725h1M573 725h1M580 725h1M583 725h1M586 725h1M592 725h1M597 725h3M601 725h1M607 725h2M612 725h1M615 725h1M620 725h3M630 725h4M642 725h1M646 725h1M716 725h1M929 725h1M157 726h3M161 726h2M164 726h3M506 726h1M534 726h1M551 726h1M560 726h2M572 726h1M579 726h1M581 726h1M585 726h1M588 726h1M591 726h1M596 726h1M598 726h1M602 726h1M605 726h1M607 726h1M610 726h1M613 726h1M643 726h1M653 726h1M929 726h1M157 727h12M490 727h1M495 727h1M502 727h1M512 727h1M518 727h1M531 727h3M549 727h1M559 727h2M565 727h1M572 727h1M580 727h4M586 727h1M593 727h1M597 727h1M610 727h1M616 727h1M618 727h1M620 727h1M667 727h1M672 727h1M683 727h1M929 727h1M157 728h13M518 728h1M536 728h1M542 728h1M568 728h1M577 728h1M581 728h1M593 728h3M604 728h1M606 728h1M608 728h1M618 728h2M626 728h1M635 728h1M662 728h2M929 728h1M159 729h8M492 729h1M534 729h1M555 729h1M559 729h1M568 729h1M574 729h1M578 729h1M581 729h1M587 729h1M589 729h1M596 729h1M600 729h1M604 729h2M618 729h1M623 729h2M635 729h2M661 729h1M683 729h1M929 729h1M156 730h12M525 730h2M542 730h1M548 730h1M566 730h1M568 730h1M596 730h1M604 730h2M609 730h1M614 730h1M616 730h1M629 730h1M633 730h1M641 730h1M643 730h1M651 730h1M929 730h1M156 731h2M159 731h8M490 731h1M506 731h1M519 731h1M525 731h1M538 731h1M544 731h1M547 731h1M551 731h1M565 731h1M567 731h1M572 731h1M574 731h2M589 731h1M592 731h1M596 731h1M600 731h1M602 731h1M605 731h1M609 731h1M615 731h2M620 731h1M628 731h1M631 731h1M634 731h1M645 731h1M661 731h1M665 731h2M929 731h1M157 732h7M165 732h2M487 732h1M510 732h1M514 732h1M520 732h1M524 732h1M526 732h1M535 732h1M550 732h1M558 732h1M561 732h1M572 732h1M577 732h2M582 732h1M596 732h1M603 732h1M611 732h1M617 732h1M619 732h1M626 732h1M633 732h1M641 732h1M675 732h1M929 732h1M156 733h9M496 733h1M498 733h1M508 733h1M516 733h1M547 733h1M562 733h1M566 733h2M582 733h1M584 733h1M597 733h3M604 733h3M608 733h1M617 733h2M623 733h1M625 733h1M628 733h1M630 733h1M632 733h1M634 733h1M929 733h1M155 734h4M160 734h6M503 734h1M538 734h1M568 734h1M577 734h1M601 734h1M607 734h1M609 734h1M616 734h2M621 734h1M624 734h1M630 734h1M640 734h1M655 734h1M929 734h1M156 735h8M165 735h3M497 735h1M517 735h1M525 735h1M533 735h1M547 735h1M567 735h1M570 735h1M572 735h1M580 735h1M583 735h1M589 735h1M593 735h1M610 735h1M616 735h1M624 735h2M627 735h1M631 735h1M655 735h1M669 735h1M676 735h1M929 735h1M155 736h4M160 736h8M497 736h1M508 736h3M516 736h1M532 736h1M542 736h2M548 736h1M551 736h1M560 736h2M579 736h1M586 736h1M591 736h1M596 736h1M607 736h1M611 736h1M615 736h1M618 736h1M622 736h2M628 736h1M632 736h1M634 736h1M662 736h1M664 736h1M705 736h1M929 736h1M155 737h10M497 737h1M512 737h1M527 737h1M542 737h2M545 737h1M556 737h1M565 737h1M567 737h1M575 737h1M581 737h1M583 737h1M586 737h1M588 737h2M591 737h1M596 737h1M598 737h1M605 737h1M611 737h2M639 737h1M645 737h1M687 737h1M929 737h1M155 738h9M490 738h1M506 738h1M516 738h1M522 738h1M530 738h1M570 738h1M574 738h1M582 738h1M592 738h1M596 738h1M598 738h1M601 738h1M603 738h1M607 738h1M610 738h1M613 738h1M617 738h1M624 738h2M627 738h2M719 738h1M929 738h1M156 739h10M510 739h1M528 739h1M532 739h1M546 739h1M562 739h1M577 739h1M579 739h2M585 739h1M589 739h1M593 739h1M595 739h1M608 739h1M610 739h1M614 739h2M619 739h1M621 739h3M625 739h1M627 739h1M632 739h1M663 739h1M665 739h1M721 739h1M929 739h1M155 740h10M166 740h1M490 740h2M497 740h2M502 740h1M541 740h1M551 740h1M570 740h1M574 740h1M583 740h1M593 740h2M599 740h1M606 740h1M618 740h1M638 740h1M667 740h1M683 740h1M708 740h1M929 740h1M156 741h3M160 741h6M497 741h1M503 741h1M506 741h1M526 741h1M535 741h1M541 741h1M549 741h1M551 741h1M554 741h1M563 741h1M565 741h1M568 741h1M571 741h1M581 741h1M604 741h1M606 741h1M612 741h2M620 741h1M628 741h1M657 741h1M665 741h1M929 741h1M156 742h4M161 742h4M515 742h1M518 742h1M549 742h1M576 742h1M579 742h2M588 742h1M596 742h1M603 742h1M617 742h1M629 742h1M642 742h1M652 742h1M929 742h1M154 743h8M563 743h1M566 743h1M586 743h1M588 743h1M593 743h1M599 743h1M602 743h1M613 743h1M619 743h1M629 743h1M632 743h1M641 743h2M667 743h1M929 743h1M154 744h5M160 744h4M490 744h1M509 744h1M536 744h1M545 744h1M557 744h2M562 744h1M569 744h1M579 744h1M582 744h1M585 744h1M599 744h1M603 744h1M616 744h1M619 744h1M627 744h1M661 744h2M929 744h1M154 745h12M503 745h1M506 745h1M515 745h1M528 745h1M540 745h2M579 745h1M585 745h2M600 745h1M603 745h1M606 745h1M613 745h2M616 745h2M621 745h2M929 745h1M154 746h11M490 746h1M511 746h1M522 746h2M540 746h1M556 746h1M568 746h1M581 746h1M584 746h1M594 746h1M601 746h1M616 746h1M619 746h1M679 746h1M929 746h1M155 747h3M159 747h1M161 747h3M503 747h1M511 747h1M519 747h1M540 747h1M578 747h1M582 747h1M588 747h1M612 747h1M631 747h1M637 747h1M652 747h1M710 747h1M929 747h1M154 748h8M509 748h2M524 748h1M538 748h1M544 748h1M554 748h1M570 748h1M580 748h1M589 748h1M597 748h1M622 748h1M637 748h1M655 748h1M672 748h1M929 748h1M154 749h5M160 749h1M490 749h1M533 749h1M536 749h1M543 749h1M548 749h1M558 749h1M568 749h1M570 749h1M586 749h1M588 749h1M599 749h1M601 749h1M607 749h1M610 749h1M613 749h1M627 749h1M637 749h1M643 749h1M655 749h1M662 749h1M666 749h1M929 749h1M156 750h6M490 750h1M513 750h1M515 750h1M519 750h1M532 750h1M576 750h1M579 750h1M592 750h2M597 750h1M613 750h1M623 750h1M625 750h1M629 750h1M929 750h1M154 751h10M490 751h1M497 751h1M502 751h1M505 751h1M543 751h1M567 751h1M572 751h3M581 751h1M601 751h2M612 751h1M617 751h1M619 751h1M626 751h1M638 751h1M644 751h1M646 751h2M655 751h1M662 751h1M929 751h1M154 752h2M158 752h2M509 752h1M534 752h1M564 752h1M587 752h1M590 752h1M597 752h1M602 752h1M637 752h1M674 752h1M676 752h1M929 752h1M154 753h6M513 753h1M523 753h1M540 753h1M546 753h1M557 753h1M560 753h1M584 753h1M592 753h1M597 753h1M599 753h2M603 753h2M608 753h2M622 753h1M626 753h1M698 753h1M721 753h1M929 753h1M153 754h4M159 754h3M490 754h1M502 754h1M545 754h1M549 754h1M566 754h1M568 754h1M572 754h1M582 754h1M585 754h1M589 754h1M595 754h1M599 754h1M609 754h1M612 754h2M620 754h1M625 754h3M645 754h1M692 754h1M929 754h1M152 755h9M496 755h1M503 755h1M508 755h1M539 755h1M544 755h1M556 755h1M570 755h1M585 755h1M591 755h1M599 755h1M605 755h1M614 755h1M618 755h1M626 755h1M629 755h1M633 755h1M645 755h1M670 755h1M929 755h1M152 756h1M154 756h2M157 756h5M481 756h1M498 756h1M509 756h1M518 756h1M547 756h2M561 756h1M566 756h2M571 756h1M601 756h1M613 756h1M620 756h1M622 756h1M627 756h1M630 756h2M634 756h1M701 756h1M929 756h1M153 757h6M548 757h2M591 757h1M600 757h1M611 757h1M621 757h1M627 757h1M650 757h1M672 757h1M929 757h1M152 758h7M499 758h1M504 758h1M526 758h1M532 758h1M537 758h1M542 758h1M556 758h1M568 758h1M573 758h1M582 758h1M586 758h1M590 758h1M593 758h2M606 758h2M611 758h1M614 758h1M617 758h1M632 758h2M636 758h1M640 758h1M652 758h1M655 758h1M713 758h1M929 758h1M152 759h7M490 759h1M498 759h2M503 759h1M534 759h2M546 759h1M551 759h1M555 759h1M582 759h1M593 759h1M625 759h1M629 759h1M639 759h1M929 759h1M152 760h8M490 760h1M496 760h2M526 760h1M562 760h1M566 760h1M569 760h1M580 760h1M589 760h2M594 760h1M598 760h1M603 760h1M609 760h1M614 760h1M620 760h1M623 760h1M632 760h1M664 760h1M685 760h1M714 760h1M929 760h1M152 761h9M479 761h1M490 761h1M504 761h1M512 761h1M533 761h1M559 761h1M585 761h1M610 761h1M613 761h1M652 761h1M666 761h1M678 761h1M929 761h1M152 762h6M159 762h1M532 762h1M542 762h1M549 762h1M566 762h1M618 762h1M929 762h1M152 763h1M154 763h5M160 763h1M539 763h1M553 763h2M562 763h1M579 763h2M587 763h1M597 763h1M606 763h1M609 763h1M625 763h1M644 763h1M657 763h1M663 763h1M676 763h1M929 763h1M151 764h1M153 764h2M156 764h6M524 764h1M536 764h1M542 764h1M547 764h1M555 764h1M576 764h1M580 764h1M583 764h1M632 764h1M636 764h1M643 764h1M650 764h1M929 764h1M152 765h6M483 765h1M486 765h1M497 765h1M499 765h1M512 765h1M528 765h1M534 765h1M539 765h1M552 765h1M575 765h1M582 765h1M596 765h1M613 765h1M622 765h2M625 765h1M644 765h1M646 765h1M691 765h1M929 765h1M151 766h8M490 766h1M501 766h1M523 766h2M538 766h1M548 766h1M560 766h1M572 766h1M576 766h2M579 766h2M584 766h1M586 766h1M594 766h1M608 766h1M616 766h1M622 766h1M631 766h1M646 766h1M680 766h1M690 766h1M702 766h1M929 766h1M152 767h8M498 767h1M513 767h1M533 767h1M592 767h2M605 767h1M620 767h1M625 767h1M661 767h1M929 767h1M151 768h10M486 768h1M490 768h1M497 768h1M539 768h2M547 768h1M570 768h1M586 768h1M591 768h1M593 768h1M599 768h1M613 768h1M620 768h1M629 768h1M635 768h1M644 768h1M707 768h1M929 768h1M151 769h9M929 769h1"/>
<path stroke="#b3b3b3" d="M333 89h6M341 89h48M390 89h2M395 89h5M482 89h1M490 89h1M512 89h2M515 89h1M518 89h82M603 89h1M606 89h3M610 89h1M614 89h1M621 89h1M626 89h1M628 89h2M632 89h1M634 89h3M639 89h1M641 89h1M644 89h1M315 90h13M329 90h1M331 90h2M334 90h20M355 90h32M388 90h1M391 90h3M395 90h3M510 90h1M517 90h11M530 90h1M533 90h1M536 90h1M541 90h56M598 90h5M604 90h2M607 90h3M611 90h1M613 90h1M616 90h1M622 90h1M625 90h2M631 90h1M637 90h2M646 90h1M651 90h1M657 90h1M660 90h1M663 90h1M299 91h10M310 91h8M319 91h25M345 91h18M364 91h19M387 91h7M501 91h1M505 91h1M507 91h1M517 91h6M525 91h1M527 91h3M534 91h48M584 91h11M596 91h1M599 91h4M604 91h3M608 91h2M611 91h1M614 91h4M621 91h1M623 91h1M633 91h4M640 91h1M643 91h2M647 91h1M656 91h1M281 92h28M310 92h3M314 92h11M326 92h4M331 92h25M357 92h23M382 92h7M495 92h1M509 92h1M511 92h1M517 92h2M520 92h5M526 92h4M531 92h3M536 92h2M540 92h39M580 92h4M585 92h4M591 92h7M599 92h2M603 92h2M607 92h1M609 92h1M611 92h3M617 92h1M630 92h1M632 92h1M636 92h1M639 92h1M642 92h1M644 92h2M656 92h1M658 92h1M273 93h1M275 93h11M287 93h1M289 93h4M294 93h5M300 93h72M373 93h10M499 93h1M508 93h2M517 93h12M530 93h4M536 93h4M541 93h43M585 93h3M590 93h3M596 93h1M601 93h1M604 93h2M608 93h3M613 93h1M616 93h1M624 93h1M628 93h2M634 93h1M641 93h1M647 93h1M657 93h1M266 94h25M292 94h10M303 94h14M318 94h12M331 94h18M350 94h28M513 94h1M516 94h6M523 94h5M529 94h1M533 94h1M536 94h46M584 94h9M595 94h1M603 94h3M607 94h2M610 94h2M614 94h2M619 94h1M626 94h1M637 94h1M640 94h1M643 94h1M654 94h1M659 94h1M259 95h7M267 95h2M270 95h19M290 95h32M323 95h2M326 95h41M369 95h4M498 95h1M503 95h1M509 95h1M514 95h12M527 95h5M534 95h1M538 95h44M586 95h15M602 95h8M611 95h3M616 95h2M620 95h1M622 95h1M627 95h1M629 95h1M641 95h1M645 95h2M648 95h1M650 95h1M652 95h1M658 95h1M255 96h18M279 96h2M282 96h5M289 96h6M296 96h2M299 96h3M303 96h7M311 96h51M363 96h2M366 96h4M499 96h1M510 96h1M513 96h1M515 96h10M526 96h2M530 96h6M540 96h63M604 96h4M609 96h2M625 96h2M633 96h2M642 96h2M653 96h1M655 96h1M250 97h1M252 97h11M273 97h7M281 97h2M284 97h9M294 97h31M326 97h2M329 97h29M359 97h1M361 97h6M503 97h1M514 97h14M530 97h3M535 97h4M541 97h28M570 97h31M602 97h1M604 97h1M606 97h3M625 97h2M636 97h1M246 98h12M263 98h20M284 98h6M292 98h17M310 98h52M514 98h10M526 98h4M533 98h1M536 98h2M539 98h1M541 98h65M607 98h5M615 98h2M622 98h1M640 98h1M644 98h1M647 98h1M649 98h1M241 99h12M275 99h8M284 99h7M292 99h8M301 99h54M509 99h1M512 99h1M517 99h27M546 99h52M600 99h1M602 99h4M608 99h1M612 99h3M617 99h1M619 99h1M621 99h1M624 99h2M629 99h1M237 100h10M253 100h13M267 100h1M269 100h9M279 100h3M283 100h4M289 100h8M298 100h1M300 100h1M303 100h22M326 100h11M339 100h9M521 100h1M523 100h13M538 100h5M545 100h8M555 100h19M576 100h22M599 100h1M602 100h2M605 100h1M607 100h4M617 100h1M619 100h2M629 100h1M637 100h1M237 101h1M282 101h13M296 101h1M299 101h1M301 101h33M335 101h4M340 101h1M521 101h1M524 101h1M528 101h1M534 101h10M545 101h3M550 101h44M598 101h5M605 101h4M610 101h1M618 101h1M637 101h1M275 102h14M295 102h1M299 102h31M332 102h4M513 102h1M526 102h1M537 102h1M540 102h53M595 102h1M597 102h4M602 102h5M608 102h1M611 102h1M618 102h1M620 102h1M622 102h1M267 103h11M279 103h1M281 103h4M286 103h1M288 103h1M290 103h2M293 103h1M295 103h7M303 103h18M322 103h4M330 103h2M543 103h5M549 103h32M583 103h5M591 103h1M593 103h2M596 103h1M598 103h11M611 103h2M617 103h1M621 103h1M628 103h1M263 104h2M266 104h5M272 104h3M278 104h2M281 104h1M284 104h3M288 104h34M326 104h4M525 104h1M534 104h1M542 104h46M592 104h1M595 104h9M605 104h2M608 104h1M613 104h1M260 105h9M270 105h9M280 105h1M282 105h2M285 105h33M320 105h1M322 105h5M530 105h1M543 105h3M547 105h19M567 105h41M611 105h2M615 105h1M629 105h1M256 106h1M258 106h5M264 106h11M276 106h5M282 106h34M317 106h7M544 106h39M584 106h19M604 106h4M614 106h1M620 106h3M254 107h5M262 107h10M273 107h3M279 107h13M293 107h22M318 107h3M544 107h32M578 107h2M581 107h21M604 107h2M607 107h1M609 107h1M611 107h1M618 107h3M623 107h2M251 108h5M259 108h7M267 108h1M269 108h1M273 108h22M297 108h17M316 108h3M515 108h1M532 108h1M538 108h1M545 108h1M547 108h26M575 108h6M582 108h1M585 108h24M610 108h1M612 108h2M615 108h1M619 108h1M249 109h3M255 109h17M273 109h35M311 109h5M549 109h29M580 109h24M605 109h5M611 109h1M614 109h1M619 109h1M621 109h1M247 110h22M270 110h29M300 110h4M308 110h2M312 110h1M546 110h1M550 110h8M560 110h7M570 110h1M575 110h1M578 110h29M608 110h3M613 110h2M616 110h1M618 110h1M621 110h1M246 111h19M266 111h1M269 111h17M287 111h13M305 111h2M309 111h1M553 111h4M561 111h2M565 111h1M568 111h4M573 111h1M577 111h1M579 111h25M605 111h3M609 111h8M621 111h1M246 112h5M252 112h15M268 112h2M271 112h17M289 112h3M293 112h3M300 112h7M556 112h2M559 112h8M569 112h3M573 112h3M577 112h1M580 112h31M612 112h1M614 112h1M616 112h1M620 112h1M622 112h1M245 113h17M264 113h7M273 113h17M293 113h5M556 113h1M558 113h5M567 113h1M571 113h3M576 113h2M580 113h30M611 113h2M614 113h1M618 113h1M625 113h1M245 114h1M247 114h13M262 114h11M274 114h18M297 114h3M559 114h2M564 114h1M570 114h1M573 114h4M580 114h25M606 114h8M616 114h1M618 114h1M620 114h1M622 114h1M625 114h1M246 115h26M273 115h7M281 115h5M288 115h1M292 115h2M296 115h3M563 115h1M565 115h6M574 115h36M611 115h8M620 115h1M624 115h1M244 116h16M261 116h10M272 116h7M281 116h4M286 116h1M288 116h1M294 116h3M565 116h11M580 116h20M601 116h18M620 116h2M625 116h1M628 116h1M630 116h1M244 117h1M246 117h14M261 117h21M284 117h3M288 117h1M295 117h2M569 117h3M575 117h30M606 117h14M622 117h2M627 117h1M629 117h2M245 118h14M260 118h8M269 118h1M274 118h4M279 118h1M281 118h1M285 118h3M289 118h2M293 118h2M571 118h6M578 118h9M589 118h25M615 118h3M619 118h2M622 118h2M625 118h1M633 118h3M243 119h3M247 119h10M259 119h7M268 119h9M279 119h2M285 119h6M292 119h3M575 119h49M626 119h2M629 119h1M633 119h2M637 119h1M242 120h5M248 120h1M250 120h4M256 120h8M265 120h11M277 120h1M280 120h2M284 120h3M288 120h1M291 120h3M577 120h48M626 120h1M628 120h1M630 120h1M634 120h1M241 121h9M253 121h5M261 121h14M277 121h1M280 121h5M286 121h2M289 121h1M291 121h2M576 121h36M614 121h13M628 121h4M636 121h2M240 122h9M251 122h1M254 122h4M259 122h14M278 122h5M284 122h5M290 122h2M579 122h21M602 122h30M634 122h2M641 122h2M644 122h1M239 123h8M248 123h7M256 123h17M275 123h3M280 123h5M286 123h1M289 123h2M582 123h51M634 123h3M641 123h1M238 124h9M248 124h7M256 124h16M273 124h2M277 124h1M280 124h2M283 124h7M584 124h2M588 124h3M592 124h4M599 124h1M605 124h2M614 124h17M633 124h3M637 124h1M238 125h10M249 125h4M254 125h2M257 125h16M276 125h13M589 125h9M608 125h1M611 125h1M614 125h4M620 125h4M625 125h10M638 125h1M640 125h1M645 125h1M237 126h15M253 126h1M256 126h1M258 126h3M262 126h8M271 126h17M589 126h5M599 126h1M602 126h1M609 126h21M632 126h2M635 126h1M638 126h1M641 126h1M643 126h1M645 126h1M236 127h12M249 127h1M253 127h3M259 127h26M593 127h3M600 127h8M614 127h23M638 127h3M644 127h2M234 128h10M246 128h1M248 128h1M250 128h5M257 128h8M266 128h14M594 128h1M596 128h2M604 128h1M610 128h1M615 128h11M628 128h10M639 128h2M642 128h1M645 128h1M234 129h7M242 129h3M246 129h3M253 129h19M599 129h3M604 129h1M608 129h4M613 129h7M622 129h19M642 129h1M646 129h1M648 129h1M651 129h1M233 130h5M239 130h7M249 130h2M252 130h11M604 130h5M611 130h3M615 130h29M646 130h1M649 130h1M232 131h12M245 131h12M607 131h14M623 131h19M644 131h1M647 131h2M231 132h5M238 132h4M243 132h6M250 132h6M617 132h27M646 132h1M230 133h5M237 133h2M241 133h13M619 133h1M623 133h2M627 133h21M649 133h3M654 133h1M230 134h2M233 134h1M236 134h2M239 134h14M617 134h2M621 134h3M628 134h10M640 134h7M650 134h2M231 135h2M234 135h3M238 135h13M619 135h2M622 135h2M627 135h16M651 135h1M230 136h2M233 136h14M248 136h2M622 136h1M624 136h1M627 136h21M230 137h6M237 137h13M620 137h28M649 137h1M653 137h1M229 138h1M231 138h2M234 138h10M245 138h3M621 138h1M624 138h22M647 138h4M652 138h1M654 138h2M230 139h4M235 139h3M239 139h7M622 139h1M626 139h25M229 140h2M232 140h13M625 140h24M651 140h1M653 140h1M229 141h4M234 141h11M621 141h26M648 141h1M650 141h2M654 141h3M229 142h3M233 142h12M622 142h4M627 142h23M651 142h1M229 143h15M622 143h2M627 143h22M650 143h1M231 144h13M622 144h30M654 144h1M656 144h1M228 145h16M626 145h23M650 145h3M655 145h2M228 146h1M230 146h1M232 146h11M625 146h1M627 146h25M654 146h1M228 147h6M235 147h5M241 147h2M626 147h3M630 147h22M653 147h2M657 147h1M227 148h15M627 148h1M629 148h14M648 148h5M655 148h2M227 149h7M235 149h4M240 149h1M627 149h2M633 149h2M636 149h3M641 149h2M644 149h8M657 149h1M226 150h1M228 150h6M235 150h6M630 150h22M653 150h1M658 150h1M226 151h1M229 151h5M235 151h4M629 151h23M653 151h1M655 151h2M660 151h1M225 152h1M227 152h6M234 152h5M631 152h6M639 152h1M642 152h5M648 152h6M656 152h1M226 153h1M228 153h4M233 153h5M633 153h4M639 153h15M224 154h7M232 154h6M635 154h1M637 154h17M655 154h2M660 154h1M225 155h4M230 155h7M637 155h6M644 155h8M654 155h2M659 155h1M224 156h4M229 156h7M637 156h4M642 156h11M656 156h1M224 157h2M228 157h7M639 157h4M645 157h9M655 157h1M659 157h1M223 158h1M225 158h1M227 158h7M638 158h7M647 158h9M657 158h2M222 159h1M225 159h9M639 159h2M643 159h12M222 160h2M225 160h8M643 160h12M658 160h1M221 161h2M224 161h9M640 161h5M647 161h10M659 161h1M221 162h13M646 162h11M660 162h1M220 163h14M643 163h2M648 163h9M219 164h1M222 164h8M231 164h2M644 164h15M661 164h3M219 165h1M221 165h1M223 165h10M645 165h1M648 165h6M656 165h2M661 165h2M218 166h3M222 166h1M224 166h9M643 166h1M645 166h1M648 166h3M652 166h8M218 167h1M220 167h1M223 167h10M645 167h4M650 167h4M655 167h5M664 167h1M218 168h15M646 168h3M650 168h2M653 168h7M661 168h3M667 168h1M218 169h14M643 169h1M645 169h2M649 169h1M651 169h3M655 169h5M661 169h1M217 170h5M223 170h4M228 170h4M646 170h16M217 171h16M644 171h10M655 171h2M658 171h7M215 172h1M217 172h5M223 172h9M647 172h2M653 172h10M667 172h1M215 173h6M222 173h11M646 173h2M649 173h10M660 173h2M663 173h4M213 174h8M222 174h7M230 174h3M645 174h1M647 174h9M657 174h5M663 174h3M668 174h1M670 174h1M672 174h1M676 174h1M212 175h1M214 175h4M219 175h8M229 175h4M645 175h1M647 175h2M650 175h14M665 175h2M668 175h2M673 175h1M675 175h1M211 176h1M213 176h2M216 176h10M229 176h3M645 176h3M649 176h6M656 176h4M661 176h8M670 176h1M672 176h1M676 176h1M209 177h1M212 177h14M227 177h1M229 177h2M645 177h4M650 177h3M654 177h14M669 177h1M674 177h2M679 177h3M211 178h16M228 178h4M646 178h4M651 178h8M660 178h5M666 178h12M679 178h1M681 178h1M208 179h1M210 179h9M220 179h4M225 179h1M227 179h4M645 179h6M652 179h16M669 179h1M671 179h2M675 179h2M682 179h1M207 180h11M220 180h7M228 180h2M646 180h5M652 180h7M660 180h1M662 180h2M665 180h7M673 180h2M680 180h1M206 181h9M216 181h1M218 181h7M226 181h1M228 181h2M647 181h11M659 181h3M663 181h12M678 181h1M681 181h1M205 182h3M209 182h2M212 182h2M216 182h9M226 182h4M648 182h8M657 182h3M662 182h4M667 182h6M674 182h1M204 183h1M206 183h4M212 183h3M216 183h6M224 183h5M649 183h9M659 183h5M665 183h3M669 183h1M671 183h3M675 183h2M681 183h1M204 184h1M206 184h3M211 184h4M216 184h5M225 184h4M650 184h3M654 184h3M661 184h1M663 184h2M666 184h2M669 184h6M676 184h4M682 184h1M205 185h3M209 185h11M223 185h1M225 185h4M650 185h2M654 185h6M661 185h2M664 185h12M678 185h1M202 186h2M205 186h2M208 186h6M215 186h4M220 186h1M224 186h4M652 186h2M655 186h7M663 186h2M666 186h5M672 186h6M679 186h1M202 187h1M204 187h2M207 187h8M216 187h3M220 187h1M223 187h4M651 187h6M658 187h4M664 187h6M671 187h6M201 188h1M203 188h2M207 188h7M215 188h3M221 188h4M655 188h1M657 188h3M662 188h2M665 188h1M668 188h3M672 188h2M675 188h5M682 188h1M201 189h2M204 189h2M207 189h6M214 189h2M217 189h5M655 189h1M659 189h8M669 189h5M675 189h5M685 189h1M201 190h1M205 190h2M208 190h6M215 190h6M658 190h2M661 190h9M671 190h3M675 190h1M677 190h4M683 190h1M689 190h1M201 191h9M211 191h5M217 191h3M660 191h12M673 191h5M679 191h4M684 191h1M687 191h1M200 192h1M202 192h5M209 192h3M213 192h5M660 192h7M671 192h1M673 192h7M681 192h3M689 192h1M200 193h8M209 193h7M663 193h11M675 193h1M677 193h9M689 193h2M200 194h1M202 194h13M662 194h3M666 194h21M688 194h2M199 195h4M204 195h10M667 195h17M685 195h2M688 195h1M690 195h2M693 195h1M196 196h3M200 196h2M203 196h10M664 196h4M669 196h7M677 196h5M683 196h1M685 196h3M690 196h2M695 196h1M699 196h1M193 197h1M195 197h1M199 197h14M665 197h1M667 197h16M684 197h3M688 197h3M692 197h4M191 198h3M199 198h6M206 198h3M210 198h2M667 198h3M671 198h4M676 198h6M685 198h7M693 198h1M695 198h2M189 199h3M195 199h13M209 199h3M671 199h7M679 199h3M683 199h1M685 199h4M690 199h6M697 199h2M703 199h1M705 199h1M188 200h3M193 200h15M209 200h2M665 200h6M673 200h4M678 200h1M680 200h4M686 200h2M691 200h1M693 200h1M695 200h1M697 200h3M702 200h2M708 200h1M186 201h5M192 201h15M208 201h2M667 201h2M670 201h15M686 201h2M689 201h6M696 201h1M698 201h1M702 201h2M184 202h4M192 202h12M206 202h4M669 202h4M674 202h8M684 202h1M686 202h3M690 202h1M692 202h9M702 202h3M709 202h1M184 203h3M191 203h11M203 203h3M207 203h2M656 203h1M664 203h2M667 203h2M670 203h6M678 203h9M689 203h1M691 203h1M693 203h3M699 203h1M702 203h3M182 204h4M189 204h11M201 204h3M206 204h1M208 204h1M653 204h1M655 204h1M659 204h1M661 204h3M667 204h5M674 204h1M676 204h3M680 204h1M682 204h2M685 204h2M688 204h1M690 204h3M694 204h8M703 204h4M713 204h1M180 205h1M182 205h2M185 205h1M187 205h14M202 205h1M204 205h1M207 205h2M668 205h1M670 205h2M673 205h4M679 205h12M692 205h12M706 205h1M709 205h1M178 206h5M185 206h16M203 206h1M206 206h2M668 206h1M670 206h1M673 206h6M680 206h3M684 206h2M687 206h2M690 206h4M695 206h1M697 206h9M712 206h1M178 207h2M183 207h10M194 207h7M203 207h5M669 207h2M672 207h2M676 207h5M682 207h2M686 207h1M688 207h9M699 207h8M712 207h3M177 208h1M180 208h1M183 208h16M200 208h6M683 208h2M687 208h1M689 208h1M691 208h5M699 208h1M703 208h4M178 209h1M181 209h10M192 209h2M195 209h7M685 209h3M691 209h3M695 209h10M706 209h2M709 209h1M714 209h1M174 210h16M191 210h7M684 210h2M687 210h1M689 210h2M692 210h4M697 210h2M700 210h5M706 210h1M709 210h3M713 210h2M716 210h1M719 210h1M174 211h3M179 211h9M189 211h2M192 211h3M686 211h5M695 211h2M698 211h3M702 211h4M707 211h3M711 211h2M717 211h1M174 212h3M179 212h14M686 212h4M691 212h2M694 212h2M697 212h5M703 212h9M713 212h1M719 212h1M174 213h1M178 213h1M180 213h7M189 213h4M688 213h2M691 213h2M694 213h4M699 213h3M703 213h12M174 214h3M178 214h1M180 214h6M187 214h1M189 214h3M687 214h6M694 214h2M697 214h4M703 214h3M707 214h9M174 215h3M179 215h8M190 215h2M690 215h1M692 215h20M714 215h1M717 215h1M722 215h1M173 216h5M180 216h13M690 216h1M692 216h9M702 216h2M706 216h3M710 216h3M718 216h1M174 217h2M179 217h1M181 217h6M188 217h4M693 217h2M696 217h2M699 217h5M705 217h2M708 217h1M710 217h4M715 217h1M719 217h1M174 218h1M176 218h2M179 218h1M181 218h5M187 218h4M690 218h1M692 218h4M698 218h1M700 218h3M708 218h1M711 218h3M718 218h1M174 219h1M176 219h1M178 219h12M692 219h9M705 219h1M707 219h3M711 219h2M714 219h2M172 220h4M177 220h9M187 220h3M694 220h5M700 220h1M703 220h2M706 220h3M710 220h6M719 220h1M723 220h2M171 221h4M178 221h11M694 221h1M696 221h12M711 221h4M719 221h1M723 221h1M171 222h1M173 222h2M176 222h12M697 222h1M699 222h7M707 222h3M713 222h4M719 222h1M171 223h1M174 223h7M182 223h2M185 223h2M697 223h3M701 223h3M705 223h1M709 223h2M713 223h3M718 223h1M168 224h1M170 224h3M174 224h6M182 224h4M696 224h2M699 224h2M702 224h5M708 224h9M169 225h3M173 225h6M180 225h5M697 225h4M702 225h2M705 225h4M710 225h6M725 225h1M167 226h1M169 226h2M172 226h9M182 226h2M701 226h3M705 226h5M711 226h2M714 226h4M720 226h2M167 227h15M701 227h6M708 227h2M711 227h3M715 227h3M719 227h2M722 227h1M724 227h1M168 228h14M701 228h5M708 228h3M712 228h2M716 228h3M721 228h1M726 228h1M164 229h2M167 229h8M176 229h4M701 229h1M703 229h1M705 229h7M714 229h4M720 229h2M725 229h2M163 230h1M165 230h13M179 230h1M701 230h3M705 230h3M709 230h3M717 230h1M719 230h2M161 231h2M164 231h1M166 231h13M704 231h5M711 231h5M717 231h5M725 231h1M160 232h12M173 232h5M704 232h1M706 232h5M712 232h1M714 232h1M716 232h2M159 233h1M161 233h2M164 233h13M706 233h3M715 233h3M158 234h1M161 234h5M167 234h2M170 234h6M707 234h2M710 234h5M716 234h1M718 234h2M722 234h1M158 235h7M166 235h9M705 235h1M708 235h2M711 235h1M713 235h1M715 235h1M717 235h3M722 235h2M725 235h1M157 236h1M159 236h6M166 236h8M706 236h3M710 236h1M713 236h1M719 236h2M722 236h2M156 237h4M161 237h3M165 237h7M707 237h1M710 237h8M719 237h2M723 237h1M725 237h1M155 238h4M160 238h3M164 238h6M710 238h8M719 238h1M723 238h1M155 239h15M710 239h2M714 239h4M719 239h1M721 239h1M723 239h2M154 240h2M158 240h11M712 240h2M715 240h5M721 240h1M725 240h2M153 241h1M156 241h7M164 241h3M710 241h8M720 241h1M723 241h1M152 242h3M156 242h5M162 242h4M712 242h3M716 242h5M152 243h1M155 243h10M711 243h5M719 243h3M726 243h1M152 244h12M714 244h2M717 244h3M721 244h1M723 244h1M152 245h11M713 245h1M715 245h3M719 245h1M721 245h2M724 245h2M154 246h4M159 246h3M714 246h7M722 246h2M725 246h1M151 247h10M713 247h2M717 247h1M719 247h1M726 247h1M151 248h10M715 248h5M721 248h1M151 249h1M154 249h6M713 249h1M715 249h1M717 249h5M725 249h1M151 250h1M153 250h6M720 250h2M725 250h2M152 251h7M713 251h9"/>
</g>
<g style="will-change:transform;filter:grayscale(1)">
<text transform="translate(204.60 79.80) scale(1.0994 1.03)" font-size="15.4" fill="#262626">10</text>
<text transform="translate(271.53 79.80) scale(1.0778 1.03)" font-size="15.4" fill="#262626">12</text>
<text transform="translate(338.80 79.80) scale(1.0989 1.03)" font-size="15.4" fill="#262626">14</text>
<text transform="translate(136.38 94.40) scale(1.0541 1.03)" font-size="15.4" fill="#262626">0</text>
<text transform="translate(116.79 159.40) scale(1.1154 1.03)" font-size="15.4" fill="#262626">100</text>
<text transform="translate(116.67 223.40) scale(1.1203 1.03)" font-size="15.4" fill="#262626">200</text>
<text transform="translate(237.59 60.80) scale(1.0948 1.05)" font-size="16.6" fill="#262626">Temp (C)</text>
<text transform="translate(108.80 171.30) rotate(-90) translate(-25.08 0) scale(1.1253 1.05)" font-size="16.6" fill="#262626">Depth</text>
<text transform="translate(503.64 79.80) scale(1.0834 1.03)" font-size="15.4" fill="#262626">33</text>
<text transform="translate(588.28 79.80) scale(1.1054 1.03)" font-size="15.4" fill="#262626">33.5</text>
<text transform="translate(688.64 79.80) scale(1.0911 1.03)" font-size="15.4" fill="#262626">34</text>
<text transform="translate(462.38 94.40) scale(1.0541 1.03)" font-size="15.4" fill="#262626">0</text>
<text transform="translate(442.79 159.40) scale(1.1154 1.03)" font-size="15.4" fill="#262626">100</text>
<text transform="translate(442.67 223.40) scale(1.1203 1.03)" font-size="15.4" fill="#262626">200</text>
<text transform="translate(570.90 60.80) scale(1.1285 1.05)" font-size="16.6" fill="#262626">Salinity</text>
<text transform="translate(804.94 79.80) scale(1.0676 1.03)" font-size="15.4" fill="#262626">-2</text>
<text transform="translate(856.48 79.80) scale(1.0541 1.03)" font-size="15.4" fill="#262626">0</text>
<text transform="translate(905.14 79.80) scale(1.0161 1.03)" font-size="15.4" fill="#262626">2</text>
<text transform="translate(953.48 79.80) scale(1.0543 1.03)" font-size="15.4" fill="#262626">4</text>
<text transform="translate(1002.02 79.80) scale(1.0910 1.03)" font-size="15.4" fill="#262626">6</text>
<text transform="translate(790.28 94.40) scale(1.0541 1.03)" font-size="15.4" fill="#262626">0</text>
<text transform="translate(770.69 159.40) scale(1.1154 1.03)" font-size="15.4" fill="#262626">100</text>
<text transform="translate(770.57 223.40) scale(1.1203 1.03)" font-size="15.4" fill="#262626">200</text>
<text transform="translate(862.46 60.80) scale(1.0596 1.05)" font-size="16.6" fill="#262626">HS2 Fluor (NFU)</text>
<path d="M1011.10 53.50l7.6 7.4m0 -7.4l-7.6 7.4" stroke="#262626" stroke-width="0.9" fill="none"/><text transform="translate(1021.52 61.00) scale(1.0941 1.03)" font-size="15.4" fill="#262626">10</text><text transform="translate(1040.50 53.80) scale(1.1527 1.05)" font-size="11.7" fill="#262626">-3</text>
<text transform="translate(170.44 338.30) scale(1.0161 1.03)" font-size="15.4" fill="#262626">2</text>
<text transform="translate(256.18 338.30) scale(1.0543 1.03)" font-size="15.4" fill="#262626">4</text>
<text transform="translate(341.22 338.30) scale(1.0910 1.03)" font-size="15.4" fill="#262626">6</text>
<text transform="translate(136.38 353.90) scale(1.0541 1.03)" font-size="15.4" fill="#262626">0</text>
<text transform="translate(126.72 385.90) scale(1.0926 1.03)" font-size="15.4" fill="#262626">50</text>
<text transform="translate(116.79 417.90) scale(1.1154 1.03)" font-size="15.4" fill="#262626">100</text>
<text transform="translate(116.79 449.90) scale(1.1154 1.03)" font-size="15.4" fill="#262626">150</text>
<text transform="translate(116.67 481.90) scale(1.1203 1.03)" font-size="15.4" fill="#262626">200</text>
<text transform="translate(116.67 513.90) scale(1.1203 1.03)" font-size="15.4" fill="#262626">250</text>
<text transform="translate(209.62 319.80) scale(1.1078 1.05)" font-size="16.6" fill="#262626">CTD1 Oxy (ml/l)</text>
<text transform="translate(108.80 429.10) rotate(-90) translate(-25.08 0) scale(1.1253 1.05)" font-size="16.6" fill="#262626">Depth</text>
<text transform="translate(472.98 338.30) scale(1.0541 1.03)" font-size="15.4" fill="#262626">0</text>
<text transform="translate(589.71 338.30) scale(1.0977 1.03)" font-size="15.4" fill="#262626">0.5</text>
<text transform="translate(721.81 338.30) scale(1.0068 1.03)" font-size="15.4" fill="#262626">1</text>
<text transform="translate(462.38 353.90) scale(1.0541 1.03)" font-size="15.4" fill="#262626">0</text>
<text transform="translate(447.67 385.90) scale(1.0950 1.03)" font-size="15.4" fill="#262626">0.2</text>
<text transform="translate(447.66 417.90) scale(1.1108 1.03)" font-size="15.4" fill="#262626">0.4</text>
<text transform="translate(447.65 450.90) scale(1.1180 1.03)" font-size="15.4" fill="#262626">0.6</text>
<text transform="translate(447.65 482.90) scale(1.1135 1.03)" font-size="15.4" fill="#262626">0.8</text>
<text transform="translate(462.51 514.90) scale(1.0068 1.03)" font-size="15.4" fill="#262626">1</text>
<text transform="translate(530.52 319.80) scale(1.1597 1.05)" font-size="16.6" fill="#262626">Nitrate (umol/kg)</text>
<text transform="translate(813.08 338.30) scale(1.0541 1.03)" font-size="15.4" fill="#262626">0</text>
<text transform="translate(891.90 338.30) scale(1.1097 1.03)" font-size="15.4" fill="#262626">0.02</text>
<text transform="translate(983.00 338.30) scale(1.1206 1.03)" font-size="15.4" fill="#262626">0.04</text>
<text transform="translate(790.28 353.90) scale(1.0541 1.03)" font-size="15.4" fill="#262626">0</text>
<text transform="translate(780.62 385.90) scale(1.0926 1.03)" font-size="15.4" fill="#262626">50</text>
<text transform="translate(770.69 417.90) scale(1.1154 1.03)" font-size="15.4" fill="#262626">100</text>
<text transform="translate(770.69 449.90) scale(1.1154 1.03)" font-size="15.4" fill="#262626">150</text>
<text transform="translate(770.57 481.90) scale(1.1203 1.03)" font-size="15.4" fill="#262626">200</text>
<text transform="translate(770.57 513.90) scale(1.1203 1.03)" font-size="15.4" fill="#262626">250</text>
<text transform="translate(872.45 319.80) scale(1.1659 1.05)" font-size="16.6" fill="#262626">bbp470 (m</text><text transform="translate(964.27 311.60) scale(1.2793 1.05)" font-size="11.0" fill="#262626">-1</text><text transform="translate(978.29 319.80) scale(1.1588 1.05)" font-size="16.6" fill="#262626">)</text>
<text transform="translate(191.04 597.80) scale(1.0161 1.03)" font-size="15.4" fill="#262626">2</text>
<text transform="translate(242.18 597.80) scale(1.0543 1.03)" font-size="15.4" fill="#262626">4</text>
<text transform="translate(293.22 597.80) scale(1.0910 1.03)" font-size="15.4" fill="#262626">6</text>
<text transform="translate(344.43 597.80) scale(1.0656 1.03)" font-size="15.4" fill="#262626">8</text>
<text transform="translate(136.38 613.40) scale(1.0541 1.03)" font-size="15.4" fill="#262626">0</text>
<text transform="translate(126.72 645.40) scale(1.0926 1.03)" font-size="15.4" fill="#262626">50</text>
<text transform="translate(116.79 677.40) scale(1.1154 1.03)" font-size="15.4" fill="#262626">100</text>
<text transform="translate(116.79 709.40) scale(1.1154 1.03)" font-size="15.4" fill="#262626">150</text>
<text transform="translate(116.67 741.40) scale(1.1203 1.03)" font-size="15.4" fill="#262626">200</text>
<text transform="translate(116.67 773.40) scale(1.1203 1.03)" font-size="15.4" fill="#262626">250</text>
<text transform="translate(219.40 578.80) scale(1.1665 1.05)" font-size="16.6" fill="#262626">bbp676 (m</text><text transform="translate(311.27 570.60) scale(1.2793 1.05)" font-size="11.0" fill="#262626">-1</text><text transform="translate(325.39 578.80) scale(1.1588 1.05)" font-size="16.6" fill="#262626">)</text>
<text transform="translate(108.80 688.30) rotate(-90) translate(-25.08 0) scale(1.1253 1.05)" font-size="16.6" fill="#262626">Depth</text>
<path d="M358.10 571.50l7.6 7.4m0 -7.4l-7.6 7.4" stroke="#262626" stroke-width="0.9" fill="none"/><text transform="translate(368.52 579.00) scale(1.0941 1.03)" font-size="15.4" fill="#262626">10</text><text transform="translate(387.50 571.80) scale(1.1527 1.05)" font-size="11.7" fill="#262626">-3</text>
<text transform="translate(497.72 597.80) scale(1.0910 1.03)" font-size="15.4" fill="#262626">6</text>
<text transform="translate(580.03 597.80) scale(1.0656 1.03)" font-size="15.4" fill="#262626">8</text>
<text transform="translate(657.40 597.80) scale(1.0994 1.03)" font-size="15.4" fill="#262626">10</text>
<text transform="translate(462.38 613.40) scale(1.0541 1.03)" font-size="15.4" fill="#262626">0</text>
<text transform="translate(452.72 645.40) scale(1.0926 1.03)" font-size="15.4" fill="#262626">50</text>
<text transform="translate(442.79 677.40) scale(1.1154 1.03)" font-size="15.4" fill="#262626">100</text>
<text transform="translate(442.79 709.40) scale(1.1154 1.03)" font-size="15.4" fill="#262626">150</text>
<text transform="translate(442.67 741.40) scale(1.1203 1.03)" font-size="15.4" fill="#262626">200</text>
<text transform="translate(442.67 773.40) scale(1.1203 1.03)" font-size="15.4" fill="#262626">250</text>
<text transform="translate(485.15 578.80) scale(1.1358 1.05)" font-size="16.6" fill="#262626">Biolume log10(photons/sec)</text>
<text transform="translate(796.84 597.80) scale(1.0755 1.03)" font-size="15.4" fill="#262626">-1</text>
<text transform="translate(851.57 597.80) scale(1.1089 1.03)" font-size="15.4" fill="#262626">-0.5</text>
<text transform="translate(924.48 597.80) scale(1.0541 1.03)" font-size="15.4" fill="#262626">0</text>
<text transform="translate(978.81 597.80) scale(1.0977 1.03)" font-size="15.4" fill="#262626">0.5</text>
<text transform="translate(1049.11 597.80) scale(1.0068 1.03)" font-size="15.4" fill="#262626">1</text>
<text transform="translate(790.28 613.40) scale(1.0541 1.03)" font-size="15.4" fill="#262626">0</text>
<text transform="translate(780.62 645.40) scale(1.0926 1.03)" font-size="15.4" fill="#262626">50</text>
<text transform="translate(770.69 677.40) scale(1.1154 1.03)" font-size="15.4" fill="#262626">100</text>
<text transform="translate(770.69 709.40) scale(1.1154 1.03)" font-size="15.4" fill="#262626">150</text>
<text transform="translate(770.57 741.40) scale(1.1203 1.03)" font-size="15.4" fill="#262626">200</text>
<text transform="translate(770.57 773.40) scale(1.1203 1.03)" font-size="15.4" fill="#262626">250</text>
<text transform="translate(846.58 578.80) scale(1.0781 1.05)" font-size="16.6" fill="#262626">Biolume Flow (RPM)</text>
<text transform="translate(337.06 207.60) scale(1.0220 1.05)" font-size="13.7" fill="#000">CTD1</text>
<text transform="translate(337.06 225.00) scale(1.0195 1.05)" font-size="13.7" fill="#000">CTD2</text>
<rect x="309.0" y="202" width="1" height="1" fill="#000"/>
<rect x="309.0" y="220" width="1" height="1" fill="#b3b3b3"/>
<text transform="translate(552.66 207.60) scale(1.0220 1.05)" font-size="13.7" fill="#000">CTD1</text>
<text transform="translate(552.66 225.00) scale(1.0195 1.05)" font-size="13.7" fill="#000">CTD2</text>
<rect x="526.0" y="202" width="1" height="1" fill="#000"/>
<rect x="526.0" y="220" width="1" height="1" fill="#b3b3b3"/>
<text transform="translate(353.73 853.70) scale(1.1707 1.085)" font-size="20" font-weight="bold" fill="#000" stroke="#000" stroke-width="0.35">Survey Dorado389_2022_286_01_286_01</text>
</g>
</svg>
</body></html>
